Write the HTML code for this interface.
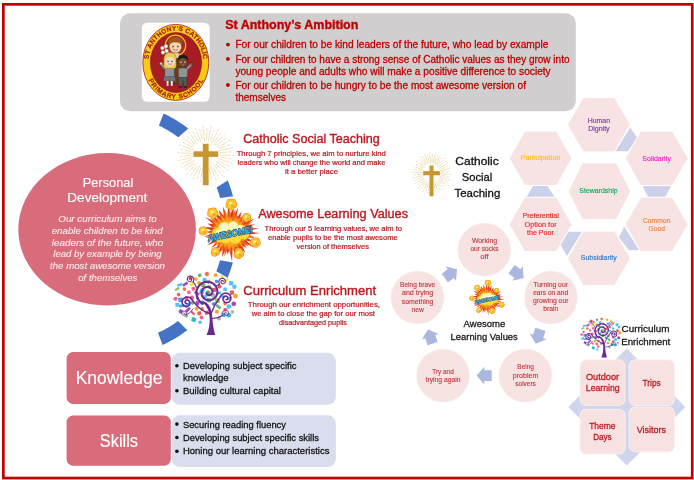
<!DOCTYPE html>
<html lang="en"><head><meta charset="utf-8"><title>St Anthony's Ambition</title>
<style>html,body{margin:0;padding:0;background:#fff;overflow:hidden}svg{display:block;will-change:transform}</style></head>
<body>
<svg width="694" height="480" viewBox="0 0 694 480" font-family="Liberation Sans, sans-serif">
<defs>
<radialGradient id="burstg" cx="50%" cy="50%" r="50%">
<stop offset="0" stop-color="#fff176"/><stop offset="0.35" stop-color="#ffb300"/><stop offset="0.7" stop-color="#f4511e"/><stop offset="1" stop-color="#d32f2f"/>
</radialGradient>
</defs>
<rect width="694" height="480" fill="#ffffff"/>
<rect x="3.35" y="4.35" width="688.9" height="473.7" fill="none" stroke="#c00000" stroke-width="2.7"/>
<polygon points="163.60,113.53 166.20,114.78 168.78,116.08 171.33,117.45 173.84,118.87 176.32,120.34 178.77,121.88 181.19,123.46 183.56,125.11 185.90,126.80 188.20,128.55 178.37,137.28 176.53,135.93 174.67,134.63 172.77,133.36 170.86,132.13 168.92,130.94 166.96,129.79 164.97,128.67 162.97,127.60 160.94,126.57 158.89,125.57" fill="#4472c4" />
<polygon points="227.69,180.49 228.32,182.03 228.92,183.59 229.51,185.15 230.07,186.72 230.62,188.29 231.14,189.87 231.64,191.46 232.12,193.06 232.58,194.66 233.02,196.27 220.13,198.04 219.82,196.97 219.51,195.90 219.18,194.83 218.84,193.76 218.49,192.70 218.13,191.64 217.76,190.59 217.38,189.54 216.99,188.49 216.59,187.44" fill="#4472c4" />
<polygon points="232.79,262.59 232.36,264.13 231.91,265.67 231.43,267.20 230.95,268.72 230.44,270.23 229.91,271.74 229.36,273.25 228.80,274.74 228.21,276.23 227.61,277.72 216.29,271.30 216.72,270.20 217.14,269.10 217.55,268.00 217.94,266.89 218.33,265.77 218.70,264.66 219.06,263.53 219.41,262.41 219.75,261.28 220.08,260.15" fill="#4472c4" />
<polygon points="187.32,330.13 185.00,331.86 182.65,333.53 180.26,335.15 177.84,336.72 175.37,338.23 172.88,339.69 170.35,341.08 167.79,342.43 165.20,343.71 162.59,344.93 157.99,332.85 160.10,331.85 162.19,330.80 164.25,329.72 166.30,328.59 168.32,327.42 170.32,326.21 172.29,324.95 174.24,323.66 176.16,322.33 178.05,320.96" fill="#4472c4" />
<rect x="120" y="13.2" width="455.8" height="98" rx="10" ry="10" fill="#d0cece"/>
<rect x="141.8" y="22.7" width="67.9" height="79.1" rx="5.5" ry="5.5" fill="#ffffff"/>
<g id="logo">
<ellipse cx="175.8" cy="62.4" rx="33.0" ry="38.0" fill="#fcc917" stroke="#a01818" stroke-width="0.8"/>
<ellipse cx="176.0" cy="62.6" rx="25.6" ry="30.0" fill="#a81c24" stroke="#7d1016" stroke-width="0.6"/>
<path id="arcTop" d="M148.55 59.16 L148.67 57.99 L148.83 56.83 L149.03 55.68 L149.26 54.54 L149.53 53.41 L149.84 52.29 L150.18 51.19 L150.55 50.10 L150.96 49.03 L151.40 47.97 L151.87 46.94 L152.38 45.92 L152.92 44.93 L153.48 43.96 L154.08 43.02 L154.71 42.10 L155.37 41.21 L156.05 40.35 L156.76 39.52 L157.50 38.72 L158.26 37.95 L159.05 37.22 L159.85 36.51 L160.68 35.85 L161.53 35.22 L162.40 34.62 L163.29 34.06 L164.19 33.55 L165.11 33.07 L166.04 32.63 L166.99 32.23 L167.95 31.87 L168.92 31.55 L169.90 31.27 L170.89 31.04 L171.88 30.84 L172.88 30.69 L173.89 30.59 L174.89 30.52 L175.90 30.50 L176.91 30.52 L177.91 30.59 L178.92 30.69 L179.92 30.84 L180.91 31.04 L181.90 31.27 L182.88 31.55 L183.85 31.87 L184.81 32.23 L185.76 32.63 L186.69 33.07 L187.61 33.55 L188.51 34.06 L189.40 34.62 L190.27 35.22 L191.12 35.85 L191.95 36.51 L192.75 37.22 L193.54 37.95 L194.30 38.72 L195.04 39.52 L195.75 40.35 L196.43 41.21 L197.09 42.10 L197.72 43.02 L198.32 43.96 L198.88 44.93 L199.42 45.92 L199.93 46.94 L200.40 47.97 L200.84 49.03 L201.25 50.10 L201.62 51.19 L201.96 52.29 L202.27 53.41 L202.54 54.54 L202.77 55.68 L202.97 56.83 L203.13 57.99 L203.25 59.16" fill="none"/>
<path id="arcBot" d="M148.52 80.10 L148.94 80.94 L149.37 81.76 L149.82 82.57 L150.29 83.37 L150.78 84.16 L151.29 84.92 L151.81 85.68 L152.35 86.41 L152.91 87.13 L153.48 87.83 L154.07 88.51 L154.67 89.18 L155.29 89.82 L155.93 90.45 L156.58 91.06 L157.24 91.64 L157.91 92.21 L158.60 92.75 L159.30 93.28 L160.01 93.78 L160.74 94.26 L161.47 94.71 L162.22 95.15 L162.97 95.56 L163.73 95.95 L164.50 96.31 L165.28 96.65 L166.07 96.96 L166.87 97.26 L167.67 97.52 L168.47 97.76 L169.29 97.98 L170.10 98.17 L170.92 98.34 L171.75 98.48 L172.57 98.59 L173.40 98.68 L174.23 98.75 L175.07 98.79 L175.90 98.80 L176.73 98.79 L177.57 98.75 L178.40 98.68 L179.23 98.59 L180.05 98.48 L180.88 98.34 L181.70 98.17 L182.51 97.98 L183.33 97.76 L184.13 97.52 L184.93 97.26 L185.73 96.96 L186.52 96.65 L187.30 96.31 L188.07 95.95 L188.83 95.56 L189.58 95.15 L190.33 94.71 L191.06 94.26 L191.79 93.78 L192.50 93.28 L193.20 92.75 L193.89 92.21 L194.56 91.64 L195.22 91.06 L195.87 90.45 L196.51 89.82 L197.13 89.18 L197.73 88.51 L198.32 87.83 L198.89 87.13 L199.45 86.41 L199.99 85.68 L200.51 84.92 L201.02 84.16 L201.51 83.37 L201.98 82.57 L202.43 81.76 L202.86 80.94 L203.28 80.10" fill="none"/>
<text font-size="6.6" font-weight="bold" fill="#9c1218" stroke="#9c1218" stroke-width="0.15" textLength="86.9" lengthAdjust="spacing"><textPath href="#arcTop" textLength="86.9" lengthAdjust="spacing">ST ANTHONY'S CATHOLIC</textPath></text>
<text font-size="6.6" font-weight="bold" fill="#9c1218" stroke="#9c1218" stroke-width="0.15" textLength="70.0" lengthAdjust="spacing"><textPath href="#arcBot" textLength="70.0" lengthAdjust="spacing">PRIMARY SCHOOL</textPath></text>
<circle cx="175.5" cy="45.4" r="10.2" fill="#b5242a" stroke="#f5c518" stroke-width="1.2"/>
<path d="M166.8 59 Q175.5 52.5 184.4 59 L185.6 84 L166.0 84 Z" fill="#6b3a1e" stroke="#3a1d0c" stroke-width="0.4"/>
<path d="M172.4 53 L178.6 53 L179.4 58 L171.6 58Z" fill="#f2c9a4"/>
<ellipse cx="175.4" cy="46.4" rx="6.3" ry="6.7" fill="#f7d3b0" stroke="#5a2d12" stroke-width="0.4"/>
<path d="M168.4 47 Q166.4 36.4 175.4 36.4 Q184.4 36.4 182.4 47 Q181 41.6 175.4 42 Q169.8 41.6 168.4 47Z" fill="#a4531c" stroke="#5a2d12" stroke-width="0.4"/>
<circle cx="173.0" cy="46.6" r="0.8" fill="#3b2a1a"/><circle cx="177.9" cy="46.6" r="0.8" fill="#3b2a1a"/>
<path d="M172.8 49.8 Q175.4 52.2 178.0 49.8 Z" fill="#fff" stroke="#8a3a2a" stroke-width="0.4"/>
<circle cx="162.4" cy="48.0" r="2.0" fill="#f4f4ee" stroke="#6a6a5a" stroke-width="0.4"/>
<circle cx="166.0" cy="46.2" r="2.0" fill="#f4f4ee" stroke="#6a6a5a" stroke-width="0.4"/>
<circle cx="166.6" cy="51.0" r="2.0" fill="#f4f4ee" stroke="#6a6a5a" stroke-width="0.4"/>
<circle cx="163.0" cy="52.4" r="2.0" fill="#f4f4ee" stroke="#6a6a5a" stroke-width="0.4"/>
<path d="M164.8 54 L167.4 62" stroke="#5b7a2e" stroke-width="0.7"/>
<path d="M165.4 69.0 L161.6 64.6" stroke="#3c3f42" stroke-width="2.9" stroke-linecap="round"/>
<path d="M165.4 69.0 L161.6 64.6" stroke="#8f9498" stroke-width="2.2" stroke-linecap="round"/>
<circle cx="161.1" cy="63.6" r="1.4" fill="#f7d3b0" stroke="#5a2d12" stroke-width="0.3"/>
<path d="M165.0 68.4 Q169.6 66.2 174.2 68.4 L174.4 77 L164.8 77Z" fill="#8f9498" stroke="#3c3f42" stroke-width="0.35"/>
<path d="M164.2 76.6 L175 76.6 L176 81 L163.2 81Z" fill="#6f7478" stroke="#3c3f42" stroke-width="0.35"/>
<rect x="166.6" y="81" width="1.9" height="5.2" fill="#f3f3f3"/><rect x="170.8" y="81" width="1.9" height="5.2" fill="#f3f3f3"/>
<ellipse cx="167.3" cy="86.8" rx="1.9" ry="1.0" fill="#b01c20"/><ellipse cx="171.9" cy="86.8" rx="1.9" ry="1.0" fill="#b01c20"/>
<path d="M164.0 61.5 Q162.8 52.6 170.0 52.6 Q177.2 52.6 176.0 61.5 Q177.0 67.6 174.6 68.4 L165.4 68.4 Q163.0 67.6 164.0 61.5Z" fill="#f0cc58" stroke="#7a5a12" stroke-width="0.4"/>
<ellipse cx="170.0" cy="61.2" rx="4.9" ry="5.1" fill="#f9dcc0"/>
<path d="M164.8 60.0 Q166.0 54.0 170.0 54.2 Q174.2 54.0 175.3 60.0 Q172.0 56.6 170.0 57 Q167.6 56.6 164.8 60.0Z" fill="#f0cc58"/>
<circle cx="168.0" cy="61.4" r="0.8" fill="#3b5a8a"/><circle cx="172.0" cy="61.4" r="0.8" fill="#3b5a8a"/>
<path d="M168.2 64.0 Q170.0 65.6 171.8 64.0 Z" fill="#fff" stroke="#a04a3a" stroke-width="0.4"/>
<path d="M187.0 69.0 L191.2 64.4" stroke="#3c3f42" stroke-width="2.9" stroke-linecap="round"/>
<path d="M187.0 69.0 L191.2 64.4" stroke="#8f9498" stroke-width="2.2" stroke-linecap="round"/>
<circle cx="191.8" cy="63.4" r="1.4" fill="#7a4a2a" stroke="#2a1508" stroke-width="0.3"/>
<path d="M178.4 68.8 Q183.0 66.6 187.6 68.8 L187.2 77.6 L178.6 77.6Z" fill="#8f9498" stroke="#3c3f42" stroke-width="0.35"/>
<path d="M178.8 77.4 L187 77.4 L186.8 86.4 L183.7 86.4 L182.9 79.6 L182.1 86.4 L179 86.4Z" fill="#55595d" stroke="#2c2f32" stroke-width="0.35"/>
<ellipse cx="180.4" cy="86.9" rx="2.0" ry="1.0" fill="#2a2a2a"/><ellipse cx="185.4" cy="86.9" rx="2.0" ry="1.0" fill="#2a2a2a"/>
<ellipse cx="182.9" cy="62.0" rx="5.0" ry="5.3" fill="#7a4a2a" stroke="#2a1508" stroke-width="0.4"/>
<path d="M177.9 61.0 Q177.2 54.8 182.9 54.8 Q188.6 54.8 187.9 61.0 Q185.6 57.8 182.9 58 Q180.2 57.8 177.9 61.0Z" fill="#1f1a18"/>
<circle cx="181.0" cy="62.2" r="0.8" fill="#fff"/><circle cx="184.8" cy="62.2" r="0.8" fill="#fff"/>
<circle cx="181.0" cy="62.2" r="0.4" fill="#111"/><circle cx="184.8" cy="62.2" r="0.4" fill="#111"/>
<path d="M181.0 64.8 Q182.9 66.4 184.8 64.8 Z" fill="#fff" stroke="#2a1508" stroke-width="0.3"/>
</g>
<text x="225.20" y="28.90" font-size="12.9" fill="#c00000" stroke="#c00000" stroke-width="0.36" font-weight="bold" font-style="normal" textLength="133.20" lengthAdjust="spacingAndGlyphs" >St Anthony’s Ambition</text>
<circle cx="227.9" cy="44.6" r="1.9" fill="#c00000"/>
<circle cx="227.9" cy="58.9" r="1.9" fill="#c00000"/>
<circle cx="227.9" cy="85.0" r="1.9" fill="#c00000"/>
<text x="235.40" y="48.30" font-size="10.1" fill="#c00000" stroke="#c00000" stroke-width="0.28" font-weight="normal" font-style="normal" textLength="313.00" lengthAdjust="spacingAndGlyphs" >For our children to be kind leaders of the future, who lead by example</text>
<text x="235.40" y="62.60" font-size="10.1" fill="#c00000" stroke="#c00000" stroke-width="0.28" font-weight="normal" font-style="normal" textLength="334.10" lengthAdjust="spacingAndGlyphs" >For our children to have a strong sense of Catholic values as they grow into</text>
<text x="235.40" y="75.00" font-size="10.1" fill="#c00000" stroke="#c00000" stroke-width="0.28" font-weight="normal" font-style="normal" textLength="315.30" lengthAdjust="spacingAndGlyphs" >young people and adults who will make a positive difference to society</text>
<text x="235.40" y="88.70" font-size="10.1" fill="#c00000" stroke="#c00000" stroke-width="0.28" font-weight="normal" font-style="normal" textLength="290.60" lengthAdjust="spacingAndGlyphs" >For our children to be hungry to be the most awesome version of</text>
<text x="235.40" y="101.10" font-size="10.1" fill="#c00000" stroke="#c00000" stroke-width="0.28" font-weight="normal" font-style="normal" textLength="50.60" lengthAdjust="spacingAndGlyphs" >themselves</text>
<ellipse cx="107.1" cy="229.3" rx="88.8" ry="76.2" fill="#d86c7a"/>
<text x="82.70" y="186.70" font-size="13.0" fill="#ffffff" stroke="#ffffff" stroke-width="0.12" font-weight="normal" font-style="normal" textLength="50.60" lengthAdjust="spacingAndGlyphs" >Personal</text>
<text x="67.30" y="202.30" font-size="13.0" fill="#ffffff" stroke="#ffffff" stroke-width="0.12" font-weight="normal" font-style="normal" textLength="80.00" lengthAdjust="spacingAndGlyphs" >Development</text>
<text x="58.30" y="222.30" font-size="9.7" fill="#fdecef" stroke="#fdecef" stroke-width="0.10" font-weight="normal" font-style="italic" textLength="98.40" lengthAdjust="spacingAndGlyphs" >Our curriculum aims to</text>
<text x="51.70" y="234.00" font-size="9.7" fill="#fdecef" stroke="#fdecef" stroke-width="0.10" font-weight="normal" font-style="italic" textLength="111.00" lengthAdjust="spacingAndGlyphs" >enable children to be kind</text>
<text x="51.70" y="245.70" font-size="9.7" fill="#fdecef" stroke="#fdecef" stroke-width="0.10" font-weight="normal" font-style="italic" textLength="111.60" lengthAdjust="spacingAndGlyphs" >leaders of the future, who</text>
<text x="53.30" y="257.30" font-size="9.7" fill="#fdecef" stroke="#fdecef" stroke-width="0.10" font-weight="normal" font-style="italic" textLength="108.40" lengthAdjust="spacingAndGlyphs" >lead by example by being</text>
<text x="50.00" y="269.30" font-size="9.7" fill="#fdecef" stroke="#fdecef" stroke-width="0.10" font-weight="normal" font-style="italic" textLength="115.00" lengthAdjust="spacingAndGlyphs" >the most awesome version</text>
<text x="78.30" y="280.70" font-size="9.7" fill="#fdecef" stroke="#fdecef" stroke-width="0.10" font-weight="normal" font-style="italic" textLength="59.00" lengthAdjust="spacingAndGlyphs" >of themselves</text>
<g transform="translate(205.7,154.1) scale(1.0,1.0)">
<line x1="12.48" y1="0.62" x2="24.47" y2="1.22" stroke="#e8dbb0" stroke-width="0.85" vector-effect="non-scaling-stroke"/>
<line x1="25.77" y1="1.29" x2="28.46" y2="1.42" stroke="#e8dbb0" stroke-width="0.85" vector-effect="non-scaling-stroke"/>
<line x1="14.23" y1="2.78" x2="21.10" y2="4.12" stroke="#e8dbb0" stroke-width="0.85" vector-effect="non-scaling-stroke"/>
<line x1="22.57" y1="4.41" x2="25.52" y2="4.98" stroke="#e8dbb0" stroke-width="0.85" vector-effect="non-scaling-stroke"/>
<line x1="11.80" y1="4.12" x2="23.13" y2="8.07" stroke="#e8dbb0" stroke-width="0.85" vector-effect="non-scaling-stroke"/>
<line x1="24.36" y1="8.50" x2="26.91" y2="9.39" stroke="#e8dbb0" stroke-width="0.85" vector-effect="non-scaling-stroke"/>
<line x1="12.87" y1="6.68" x2="19.09" y2="9.90" stroke="#e8dbb0" stroke-width="0.85" vector-effect="non-scaling-stroke"/>
<line x1="20.42" y1="10.59" x2="23.08" y2="11.97" stroke="#e8dbb0" stroke-width="0.85" vector-effect="non-scaling-stroke"/>
<line x1="10.16" y1="7.28" x2="19.92" y2="14.26" stroke="#e8dbb0" stroke-width="0.85" vector-effect="non-scaling-stroke"/>
<line x1="20.98" y1="15.02" x2="23.18" y2="16.59" stroke="#e8dbb0" stroke-width="0.85" vector-effect="non-scaling-stroke"/>
<line x1="10.47" y1="10.03" x2="15.52" y2="14.87" stroke="#e8dbb0" stroke-width="0.85" vector-effect="non-scaling-stroke"/>
<line x1="16.61" y1="15.91" x2="18.77" y2="17.99" stroke="#e8dbb0" stroke-width="0.85" vector-effect="non-scaling-stroke"/>
<line x1="7.70" y1="9.84" x2="15.10" y2="19.29" stroke="#e8dbb0" stroke-width="0.85" vector-effect="non-scaling-stroke"/>
<line x1="15.90" y1="20.32" x2="17.56" y2="22.44" stroke="#e8dbb0" stroke-width="0.85" vector-effect="non-scaling-stroke"/>
<line x1="7.22" y1="12.57" x2="10.71" y2="18.65" stroke="#e8dbb0" stroke-width="0.85" vector-effect="non-scaling-stroke"/>
<line x1="11.45" y1="19.95" x2="12.95" y2="22.55" stroke="#e8dbb0" stroke-width="0.85" vector-effect="non-scaling-stroke"/>
<line x1="4.62" y1="11.62" x2="9.05" y2="22.77" stroke="#e8dbb0" stroke-width="0.85" vector-effect="non-scaling-stroke"/>
<line x1="9.53" y1="23.97" x2="10.53" y2="26.48" stroke="#e8dbb0" stroke-width="0.85" vector-effect="non-scaling-stroke"/>
<line x1="3.38" y1="14.10" x2="5.02" y2="20.91" stroke="#e8dbb0" stroke-width="0.85" vector-effect="non-scaling-stroke"/>
<line x1="5.37" y1="22.36" x2="6.07" y2="25.28" stroke="#e8dbb0" stroke-width="0.85" vector-effect="non-scaling-stroke"/>
<line x1="1.16" y1="12.45" x2="2.27" y2="24.39" stroke="#e8dbb0" stroke-width="0.85" vector-effect="non-scaling-stroke"/>
<line x1="2.39" y1="25.69" x2="2.64" y2="28.38" stroke="#e8dbb0" stroke-width="0.85" vector-effect="non-scaling-stroke"/>
<line x1="-0.72" y1="14.48" x2="-1.07" y2="21.47" stroke="#e8dbb0" stroke-width="0.85" vector-effect="non-scaling-stroke"/>
<line x1="-1.15" y1="22.97" x2="-1.30" y2="25.97" stroke="#e8dbb0" stroke-width="0.85" vector-effect="non-scaling-stroke"/>
<line x1="-2.40" y1="12.27" x2="-4.69" y2="24.05" stroke="#e8dbb0" stroke-width="0.85" vector-effect="non-scaling-stroke"/>
<line x1="-4.94" y1="25.32" x2="-5.46" y2="27.97" stroke="#e8dbb0" stroke-width="0.85" vector-effect="non-scaling-stroke"/>
<line x1="-4.78" y1="13.69" x2="-7.08" y2="20.30" stroke="#e8dbb0" stroke-width="0.85" vector-effect="non-scaling-stroke"/>
<line x1="-7.57" y1="21.72" x2="-8.56" y2="24.55" stroke="#e8dbb0" stroke-width="0.85" vector-effect="non-scaling-stroke"/>
<line x1="-5.75" y1="11.10" x2="-11.28" y2="21.75" stroke="#e8dbb0" stroke-width="0.85" vector-effect="non-scaling-stroke"/>
<line x1="-11.88" y1="22.90" x2="-13.12" y2="25.30" stroke="#e8dbb0" stroke-width="0.85" vector-effect="non-scaling-stroke"/>
<line x1="-8.44" y1="11.79" x2="-12.51" y2="17.48" stroke="#e8dbb0" stroke-width="0.85" vector-effect="non-scaling-stroke"/>
<line x1="-13.39" y1="18.70" x2="-15.13" y2="21.14" stroke="#e8dbb0" stroke-width="0.85" vector-effect="non-scaling-stroke"/>
<line x1="-8.65" y1="9.03" x2="-16.95" y2="17.69" stroke="#e8dbb0" stroke-width="0.85" vector-effect="non-scaling-stroke"/>
<line x1="-17.85" y1="18.63" x2="-19.72" y2="20.58" stroke="#e8dbb0" stroke-width="0.85" vector-effect="non-scaling-stroke"/>
<line x1="-11.42" y1="8.94" x2="-16.93" y2="13.25" stroke="#e8dbb0" stroke-width="0.85" vector-effect="non-scaling-stroke"/>
<line x1="-18.11" y1="14.17" x2="-20.48" y2="16.02" stroke="#e8dbb0" stroke-width="0.85" vector-effect="non-scaling-stroke"/>
<line x1="-10.84" y1="6.22" x2="-21.25" y2="12.20" stroke="#e8dbb0" stroke-width="0.85" vector-effect="non-scaling-stroke"/>
<line x1="-22.37" y1="12.85" x2="-24.72" y2="14.19" stroke="#e8dbb0" stroke-width="0.85" vector-effect="non-scaling-stroke"/>
<line x1="-13.47" y1="5.36" x2="-19.98" y2="7.94" stroke="#e8dbb0" stroke-width="0.85" vector-effect="non-scaling-stroke"/>
<line x1="-21.37" y1="8.50" x2="-24.16" y2="9.61" stroke="#e8dbb0" stroke-width="0.85" vector-effect="non-scaling-stroke"/>
<line x1="-12.15" y1="2.92" x2="-23.82" y2="5.72" stroke="#e8dbb0" stroke-width="0.85" vector-effect="non-scaling-stroke"/>
<line x1="-25.09" y1="6.02" x2="-27.71" y2="6.65" stroke="#e8dbb0" stroke-width="0.85" vector-effect="non-scaling-stroke"/>
<line x1="-14.44" y1="1.34" x2="-21.41" y2="1.99" stroke="#e8dbb0" stroke-width="0.85" vector-effect="non-scaling-stroke"/>
<line x1="-22.90" y1="2.13" x2="-25.89" y2="2.41" stroke="#e8dbb0" stroke-width="0.85" vector-effect="non-scaling-stroke"/>
<line x1="-12.48" y1="-0.62" x2="-24.47" y2="-1.22" stroke="#e8dbb0" stroke-width="0.85" vector-effect="non-scaling-stroke"/>
<line x1="-25.77" y1="-1.29" x2="-28.46" y2="-1.42" stroke="#e8dbb0" stroke-width="0.85" vector-effect="non-scaling-stroke"/>
<line x1="-14.23" y1="-2.78" x2="-21.10" y2="-4.12" stroke="#e8dbb0" stroke-width="0.85" vector-effect="non-scaling-stroke"/>
<line x1="-22.57" y1="-4.41" x2="-25.52" y2="-4.98" stroke="#e8dbb0" stroke-width="0.85" vector-effect="non-scaling-stroke"/>
<line x1="-11.80" y1="-4.12" x2="-23.13" y2="-8.07" stroke="#e8dbb0" stroke-width="0.85" vector-effect="non-scaling-stroke"/>
<line x1="-24.36" y1="-8.50" x2="-26.91" y2="-9.39" stroke="#e8dbb0" stroke-width="0.85" vector-effect="non-scaling-stroke"/>
<line x1="-12.87" y1="-6.68" x2="-19.09" y2="-9.90" stroke="#e8dbb0" stroke-width="0.85" vector-effect="non-scaling-stroke"/>
<line x1="-20.42" y1="-10.59" x2="-23.08" y2="-11.97" stroke="#e8dbb0" stroke-width="0.85" vector-effect="non-scaling-stroke"/>
<line x1="-10.16" y1="-7.28" x2="-19.92" y2="-14.26" stroke="#e8dbb0" stroke-width="0.85" vector-effect="non-scaling-stroke"/>
<line x1="-20.98" y1="-15.02" x2="-23.18" y2="-16.59" stroke="#e8dbb0" stroke-width="0.85" vector-effect="non-scaling-stroke"/>
<line x1="-10.47" y1="-10.03" x2="-15.52" y2="-14.87" stroke="#e8dbb0" stroke-width="0.85" vector-effect="non-scaling-stroke"/>
<line x1="-16.61" y1="-15.91" x2="-18.77" y2="-17.99" stroke="#e8dbb0" stroke-width="0.85" vector-effect="non-scaling-stroke"/>
<line x1="-7.70" y1="-9.84" x2="-15.10" y2="-19.29" stroke="#e8dbb0" stroke-width="0.85" vector-effect="non-scaling-stroke"/>
<line x1="-15.90" y1="-20.32" x2="-17.56" y2="-22.44" stroke="#e8dbb0" stroke-width="0.85" vector-effect="non-scaling-stroke"/>
<line x1="-7.22" y1="-12.57" x2="-10.71" y2="-18.65" stroke="#e8dbb0" stroke-width="0.85" vector-effect="non-scaling-stroke"/>
<line x1="-11.45" y1="-19.95" x2="-12.95" y2="-22.55" stroke="#e8dbb0" stroke-width="0.85" vector-effect="non-scaling-stroke"/>
<line x1="-4.62" y1="-11.62" x2="-9.05" y2="-22.77" stroke="#e8dbb0" stroke-width="0.85" vector-effect="non-scaling-stroke"/>
<line x1="-9.53" y1="-23.97" x2="-10.53" y2="-26.48" stroke="#e8dbb0" stroke-width="0.85" vector-effect="non-scaling-stroke"/>
<line x1="-3.38" y1="-14.10" x2="-5.02" y2="-20.91" stroke="#e8dbb0" stroke-width="0.85" vector-effect="non-scaling-stroke"/>
<line x1="-5.37" y1="-22.36" x2="-6.07" y2="-25.28" stroke="#e8dbb0" stroke-width="0.85" vector-effect="non-scaling-stroke"/>
<line x1="-1.16" y1="-12.45" x2="-2.27" y2="-24.39" stroke="#e8dbb0" stroke-width="0.85" vector-effect="non-scaling-stroke"/>
<line x1="-2.39" y1="-25.69" x2="-2.64" y2="-28.38" stroke="#e8dbb0" stroke-width="0.85" vector-effect="non-scaling-stroke"/>
<line x1="0.72" y1="-14.48" x2="1.07" y2="-21.47" stroke="#e8dbb0" stroke-width="0.85" vector-effect="non-scaling-stroke"/>
<line x1="1.15" y1="-22.97" x2="1.30" y2="-25.97" stroke="#e8dbb0" stroke-width="0.85" vector-effect="non-scaling-stroke"/>
<line x1="2.40" y1="-12.27" x2="4.69" y2="-24.05" stroke="#e8dbb0" stroke-width="0.85" vector-effect="non-scaling-stroke"/>
<line x1="4.94" y1="-25.32" x2="5.46" y2="-27.97" stroke="#e8dbb0" stroke-width="0.85" vector-effect="non-scaling-stroke"/>
<line x1="4.78" y1="-13.69" x2="7.08" y2="-20.30" stroke="#e8dbb0" stroke-width="0.85" vector-effect="non-scaling-stroke"/>
<line x1="7.57" y1="-21.72" x2="8.56" y2="-24.55" stroke="#e8dbb0" stroke-width="0.85" vector-effect="non-scaling-stroke"/>
<line x1="5.75" y1="-11.10" x2="11.28" y2="-21.75" stroke="#e8dbb0" stroke-width="0.85" vector-effect="non-scaling-stroke"/>
<line x1="11.88" y1="-22.90" x2="13.12" y2="-25.30" stroke="#e8dbb0" stroke-width="0.85" vector-effect="non-scaling-stroke"/>
<line x1="8.44" y1="-11.79" x2="12.51" y2="-17.48" stroke="#e8dbb0" stroke-width="0.85" vector-effect="non-scaling-stroke"/>
<line x1="13.39" y1="-18.70" x2="15.13" y2="-21.14" stroke="#e8dbb0" stroke-width="0.85" vector-effect="non-scaling-stroke"/>
<line x1="8.65" y1="-9.03" x2="16.95" y2="-17.69" stroke="#e8dbb0" stroke-width="0.85" vector-effect="non-scaling-stroke"/>
<line x1="17.85" y1="-18.63" x2="19.72" y2="-20.58" stroke="#e8dbb0" stroke-width="0.85" vector-effect="non-scaling-stroke"/>
<line x1="11.42" y1="-8.94" x2="16.93" y2="-13.25" stroke="#e8dbb0" stroke-width="0.85" vector-effect="non-scaling-stroke"/>
<line x1="18.11" y1="-14.17" x2="20.48" y2="-16.02" stroke="#e8dbb0" stroke-width="0.85" vector-effect="non-scaling-stroke"/>
<line x1="10.84" y1="-6.22" x2="21.25" y2="-12.20" stroke="#e8dbb0" stroke-width="0.85" vector-effect="non-scaling-stroke"/>
<line x1="22.37" y1="-12.85" x2="24.72" y2="-14.19" stroke="#e8dbb0" stroke-width="0.85" vector-effect="non-scaling-stroke"/>
<line x1="13.47" y1="-5.36" x2="19.98" y2="-7.94" stroke="#e8dbb0" stroke-width="0.85" vector-effect="non-scaling-stroke"/>
<line x1="21.37" y1="-8.50" x2="24.16" y2="-9.61" stroke="#e8dbb0" stroke-width="0.85" vector-effect="non-scaling-stroke"/>
<line x1="12.15" y1="-2.92" x2="23.82" y2="-5.72" stroke="#e8dbb0" stroke-width="0.85" vector-effect="non-scaling-stroke"/>
<line x1="25.09" y1="-6.02" x2="27.71" y2="-6.65" stroke="#e8dbb0" stroke-width="0.85" vector-effect="non-scaling-stroke"/>
<line x1="14.44" y1="-1.34" x2="21.41" y2="-1.99" stroke="#e8dbb0" stroke-width="0.85" vector-effect="non-scaling-stroke"/>
<line x1="22.90" y1="-2.13" x2="25.89" y2="-2.41" stroke="#e8dbb0" stroke-width="0.85" vector-effect="non-scaling-stroke"/>
<rect x="-2.9" y="-10.35" width="5.8" height="41.5" fill="#c8962f"/>
<rect x="-12.3" y="-2.8" width="24.7" height="5.6" fill="#c8962f"/>
</g>
<g transform="translate(230,232.5) scale(1.0)">
<polygon points="29.77,0.70 18.17,2.03 24.49,4.95 16.69,4.94 24.55,9.71 15.87,7.98 24.53,15.24 12.75,9.62 16.77,15.27 12.12,13.28 15.42,20.43 9.24,14.99 9.74,19.81 5.86,15.50 7.18,26.47 2.66,15.65 2.06,28.97 -0.46,17.76 -2.72,21.93 -3.35,14.94 -8.13,24.79 -7.23,16.50 -12.19,21.87 -9.11,13.24 -16.41,19.62 -11.13,11.03 -18.72,15.42 -14.07,9.58 -23.27,12.94 -15.13,6.72 -23.38,7.98 -16.13,3.95 -26.34,4.04 -16.83,1.08 -23.16,-0.55 -18.39,-2.06 -26.85,-5.43 -17.12,-5.07 -22.61,-8.94 -16.77,-8.43 -25.01,-15.54 -12.81,-9.67 -18.53,-16.87 -11.90,-13.04 -16.72,-22.15 -9.50,-15.42 -11.17,-22.70 -6.25,-16.53 -7.08,-26.09 -2.69,-15.86 -1.87,-26.26 0.46,-17.71 3.48,-28.09 3.65,-16.28 8.24,-25.13 6.19,-14.12 11.67,-20.94 10.07,-14.62 16.37,-19.57 11.43,-11.33 20.69,-17.05 14.72,-10.02 24.51,-13.63 15.51,-6.89 24.95,-8.51 16.97,-4.16 28.85,-4.42 17.52,-1.13" fill="#dc3a1a" />
<polygon points="25.05,5.18 13.42,4.32 17.74,7.91 14.06,8.21 19.03,14.13 11.43,10.65 13.35,15.59 8.55,12.64 10.29,19.80 5.35,14.07 4.67,18.58 1.86,14.42 0.21,20.67 -1.65,15.28 -5.53,24.10 -5.41,15.16 -9.69,19.61 -8.03,12.41 -12.86,15.63 -9.88,9.57 -14.89,11.51 -12.95,7.90 -19.04,8.93 -14.24,4.88 -24.55,5.57 -15.46,1.80 -22.92,0.21 -14.63,-1.43 -18.73,-3.88 -14.18,-4.57 -18.07,-8.06 -13.23,-7.73 -20.48,-15.20 -11.44,-10.66 -12.80,-14.94 -9.01,-13.33 -10.88,-20.94 -5.50,-14.48 -5.88,-23.42 -1.98,-15.36 -0.24,-23.30 1.54,-14.23 5.51,-24.01 5.42,-15.19 8.55,-17.31 8.52,-13.16 14.78,-17.97 10.77,-10.44 17.62,-13.62 13.02,-7.94 22.84,-10.71 14.58,-5.00 24.14,-5.47 14.95,-1.74 25.18,-0.24 16.61,1.62" fill="#f0641a" />
<polygon points="19.23,1.14 12.87,2.39 18.60,5.94 12.47,5.79 13.66,8.61 9.08,7.51 13.91,14.98 7.13,10.07 7.75,14.81 4.86,13.47 3.73,17.53 0.99,13.75 -1.17,17.88 -2.67,12.98 -5.38,15.22 -6.11,11.87 -11.73,16.79 -8.91,9.72 -15.33,12.85 -11.63,7.43 -14.67,6.93 -13.50,4.40 -19.16,3.68 -12.87,0.84 -16.15,-0.96 -14.33,-2.66 -17.86,-5.70 -12.72,-5.91 -17.72,-11.17 -10.66,-8.83 -14.24,-15.33 -7.36,-10.39 -9.26,-17.70 -4.33,-11.98 -4.28,-20.13 -1.00,-13.87 1.03,-15.72 2.38,-11.57 5.51,-15.58 6.55,-12.71 10.29,-14.74 9.12,-9.94 13.35,-11.19 11.22,-7.17 16.40,-7.74 12.35,-4.02 19.12,-3.67 13.72,-0.90" fill="#f89a1b" />
<ellipse cx="0" cy="0" rx="13" ry="12" fill="#fbb52a"/>
<circle cx="3.86" cy="-27.83" r="3.36" fill="#e8851a"/>
<circle cx="1.27" cy="-25.62" r="3.36" fill="#e8851a"/>
<circle cx="-1.07" cy="-27.18" r="3.36" fill="#e8851a"/>
<circle cx="-0.12" cy="-30.36" r="3.36" fill="#e8851a"/>
<circle cx="2.94" cy="-30.19" r="3.36" fill="#e8851a"/>
<circle cx="3.86" cy="-27.83" r="2.91" fill="#fbc02d"/>
<circle cx="1.27" cy="-25.62" r="2.91" fill="#fbc02d"/>
<circle cx="-1.07" cy="-27.18" r="2.91" fill="#fbc02d"/>
<circle cx="-0.12" cy="-30.36" r="2.91" fill="#fbc02d"/>
<circle cx="2.94" cy="-30.19" r="2.91" fill="#fbc02d"/>
<circle cx="1.30" cy="-28.20" r="2.82" fill="#fdd835"/>
<circle cx="2.71" cy="-26.55" r="1.65" fill="#f6a21c"/>
<circle cx="0.36" cy="-29.38" r="1.32" fill="#fff59d"/>
<circle cx="-14.90" cy="-19.26" r="3.18" fill="#e8851a"/>
<circle cx="-16.70" cy="-17.26" r="3.18" fill="#e8851a"/>
<circle cx="-19.54" cy="-18.68" r="3.18" fill="#e8851a"/>
<circle cx="-19.12" cy="-21.20" r="3.18" fill="#e8851a"/>
<circle cx="-16.46" cy="-21.87" r="3.18" fill="#e8851a"/>
<circle cx="-14.90" cy="-19.26" r="2.73" fill="#fbc02d"/>
<circle cx="-16.70" cy="-17.26" r="2.73" fill="#fbc02d"/>
<circle cx="-19.54" cy="-18.68" r="2.73" fill="#fbc02d"/>
<circle cx="-19.12" cy="-21.20" r="2.73" fill="#fbc02d"/>
<circle cx="-16.46" cy="-21.87" r="2.73" fill="#fbc02d"/>
<circle cx="-17.30" cy="-19.60" r="2.64" fill="#fdd835"/>
<circle cx="-15.98" cy="-18.06" r="1.54" fill="#f6a21c"/>
<circle cx="-18.18" cy="-20.70" r="1.23" fill="#fff59d"/>
<circle cx="18.54" cy="-14.28" r="2.68" fill="#e8851a"/>
<circle cx="16.44" cy="-13.04" r="2.68" fill="#e8851a"/>
<circle cx="14.74" cy="-14.70" r="2.68" fill="#e8851a"/>
<circle cx="15.97" cy="-16.84" r="2.68" fill="#e8851a"/>
<circle cx="18.06" cy="-16.44" r="2.68" fill="#e8851a"/>
<circle cx="18.54" cy="-14.28" r="2.23" fill="#fbc02d"/>
<circle cx="16.44" cy="-13.04" r="2.23" fill="#fbc02d"/>
<circle cx="14.74" cy="-14.70" r="2.23" fill="#fbc02d"/>
<circle cx="15.97" cy="-16.84" r="2.23" fill="#fbc02d"/>
<circle cx="18.06" cy="-16.44" r="2.23" fill="#fbc02d"/>
<circle cx="16.70" cy="-15.00" r="2.16" fill="#fdd835"/>
<circle cx="17.78" cy="-13.74" r="1.26" fill="#f6a21c"/>
<circle cx="15.98" cy="-15.90" r="1.01" fill="#fff59d"/>
<circle cx="-25.04" cy="-0.69" r="2.68" fill="#e8851a"/>
<circle cx="-27.15" cy="0.35" r="2.68" fill="#e8851a"/>
<circle cx="-28.67" cy="-0.94" r="2.68" fill="#e8851a"/>
<circle cx="-28.20" cy="-3.00" r="2.68" fill="#e8851a"/>
<circle cx="-26.19" cy="-3.48" r="2.68" fill="#e8851a"/>
<circle cx="-25.04" cy="-0.69" r="2.23" fill="#fbc02d"/>
<circle cx="-27.15" cy="0.35" r="2.23" fill="#fbc02d"/>
<circle cx="-28.67" cy="-0.94" r="2.23" fill="#fbc02d"/>
<circle cx="-28.20" cy="-3.00" r="2.23" fill="#fbc02d"/>
<circle cx="-26.19" cy="-3.48" r="2.23" fill="#fbc02d"/>
<circle cx="-26.80" cy="-1.60" r="2.16" fill="#fdd835"/>
<circle cx="-25.72" cy="-0.34" r="1.26" fill="#f6a21c"/>
<circle cx="-27.52" cy="-2.50" r="1.01" fill="#fff59d"/>
<circle cx="27.67" cy="10.45" r="3.05" fill="#e8851a"/>
<circle cx="25.91" cy="12.25" r="3.05" fill="#e8851a"/>
<circle cx="23.15" cy="10.54" r="3.05" fill="#e8851a"/>
<circle cx="23.59" cy="8.56" r="3.05" fill="#e8851a"/>
<circle cx="26.77" cy="8.14" r="3.05" fill="#e8851a"/>
<circle cx="27.67" cy="10.45" r="2.60" fill="#fbc02d"/>
<circle cx="25.91" cy="12.25" r="2.60" fill="#fbc02d"/>
<circle cx="23.15" cy="10.54" r="2.60" fill="#fbc02d"/>
<circle cx="23.59" cy="8.56" r="2.60" fill="#fbc02d"/>
<circle cx="26.77" cy="8.14" r="2.60" fill="#fbc02d"/>
<circle cx="25.40" cy="10.00" r="2.52" fill="#fdd835"/>
<circle cx="26.66" cy="11.47" r="1.47" fill="#f6a21c"/>
<circle cx="24.56" cy="8.95" r="1.18" fill="#fff59d"/>
<circle cx="-12.68" cy="19.68" r="2.74" fill="#e8851a"/>
<circle cx="-15.23" cy="21.36" r="2.74" fill="#e8851a"/>
<circle cx="-16.43" cy="20.47" r="2.74" fill="#e8851a"/>
<circle cx="-15.71" cy="17.63" r="2.74" fill="#e8851a"/>
<circle cx="-13.97" cy="17.50" r="2.74" fill="#e8851a"/>
<circle cx="-12.68" cy="19.68" r="2.29" fill="#fbc02d"/>
<circle cx="-15.23" cy="21.36" r="2.29" fill="#fbc02d"/>
<circle cx="-16.43" cy="20.47" r="2.29" fill="#fbc02d"/>
<circle cx="-15.71" cy="17.63" r="2.29" fill="#fbc02d"/>
<circle cx="-13.97" cy="17.50" r="2.29" fill="#fbc02d"/>
<circle cx="-14.70" cy="19.40" r="2.22" fill="#fdd835"/>
<circle cx="-13.59" cy="20.70" r="1.29" fill="#f6a21c"/>
<circle cx="-15.44" cy="18.47" r="1.04" fill="#fff59d"/>
<circle cx="10.97" cy="21.55" r="3.12" fill="#e8851a"/>
<circle cx="8.91" cy="23.26" r="3.12" fill="#e8851a"/>
<circle cx="6.68" cy="22.13" r="3.12" fill="#e8851a"/>
<circle cx="7.73" cy="18.74" r="3.12" fill="#e8851a"/>
<circle cx="9.44" cy="18.65" r="3.12" fill="#e8851a"/>
<circle cx="10.97" cy="21.55" r="2.67" fill="#fbc02d"/>
<circle cx="8.91" cy="23.26" r="2.67" fill="#fbc02d"/>
<circle cx="6.68" cy="22.13" r="2.67" fill="#fbc02d"/>
<circle cx="7.73" cy="18.74" r="2.67" fill="#fbc02d"/>
<circle cx="9.44" cy="18.65" r="2.67" fill="#fbc02d"/>
<circle cx="8.70" cy="20.90" r="2.58" fill="#fdd835"/>
<circle cx="9.99" cy="22.40" r="1.50" fill="#f6a21c"/>
<circle cx="7.84" cy="19.82" r="1.20" fill="#fff59d"/>
<circle cx="-12" cy="1" r="6.6" fill="#ef8f12"/>
<circle cx="-5" cy="-4" r="7.6" fill="#ef8f12"/>
<circle cx="3" cy="-5" r="7.1" fill="#ef8f12"/>
<circle cx="10" cy="-2" r="6.6" fill="#ef8f12"/>
<circle cx="14" cy="2" r="5.6" fill="#ef8f12"/>
<circle cx="-4" cy="4.5" r="7.1" fill="#ef8f12"/>
<circle cx="5" cy="5" r="7.1" fill="#ef8f12"/>
<circle cx="-10" cy="5" r="5.6" fill="#ef8f12"/>
<circle cx="-12" cy="1" r="6" fill="#ffd83a"/>
<circle cx="-5" cy="-4" r="7" fill="#ffd83a"/>
<circle cx="3" cy="-5" r="6.5" fill="#ffd83a"/>
<circle cx="10" cy="-2" r="6" fill="#ffd83a"/>
<circle cx="14" cy="2" r="5" fill="#ffd83a"/>
<circle cx="-4" cy="4.5" r="6.5" fill="#ffd83a"/>
<circle cx="5" cy="5" r="6.5" fill="#ffd83a"/>
<circle cx="-10" cy="5" r="5" fill="#ffd83a"/>
<circle cx="-6" cy="-5" r="4.8" fill="#fff8c4"/>
<circle cx="3" cy="-6.5" r="4.6" fill="#fff8c4"/>
<circle cx="10" cy="-3.5" r="3.8" fill="#fff8c4"/>
<circle cx="-11" cy="0" r="3.2" fill="#fff8c4"/>
<g transform="rotate(-12) skewX(-8)"><text x="-22.8" y="4.6" font-size="9.4" font-weight="bold" fill="#48bbf0" stroke="#163a63" stroke-width="1.05" paint-order="stroke" stroke-linejoin="round" textLength="46" lengthAdjust="spacingAndGlyphs">AWESOME!</text></g>
</g>
<g transform="translate(211,335) scale(1.0) translate(-211,-335)">
<g opacity="0.82">
<circle cx="212.9" cy="295.0" r="2.2" fill="#9e9e9e"/>
<rect x="205.0" y="272.1" width="3.8" height="3.8" rx="0.7" fill="#f4511e" transform="rotate(-27 206.9 274.0)"/>
<circle cx="225.1" cy="303.6" r="1.8" fill="#f4511e"/>
<rect x="184.6" y="296.4" width="3.5" height="3.5" rx="0.7" fill="#ec407a" transform="rotate(18 186.4 298.1)"/>
<circle cx="209.1" cy="308.0" r="1.7" fill="#9e9e9e"/>
<circle cx="192.6" cy="302.8" r="1.9" fill="#43a047"/>
<rect x="191.7" y="287.0" width="3.6" height="3.6" rx="0.7" fill="#ec407a" transform="rotate(-24 193.5 288.8)"/>
<circle cx="225.2" cy="309.8" r="2.0" fill="#ec407a"/>
<circle cx="233.8" cy="303.8" r="2.4" fill="#8e24aa"/>
<circle cx="178.6" cy="294.6" r="1.8" fill="#e53935"/>
<circle cx="235.5" cy="296.1" r="2.4" fill="#fb8c00"/>
<circle cx="199.1" cy="283.1" r="2.0" fill="#fb8c00"/>
<circle cx="223.3" cy="296.9" r="1.7" fill="#00acc1"/>
<rect x="207.1" y="280.0" width="3.6" height="3.6" rx="0.7" fill="#9e9e9e" transform="rotate(-24 208.9 281.8)"/>
<circle cx="232.4" cy="311.8" r="1.9" fill="#9e9e9e"/>
<rect x="179.1" y="304.5" width="5.7" height="2.6" rx="0.6" fill="#1e88e5" transform="rotate(-8 181.9 305.8)"/>
<circle cx="196.6" cy="308.8" r="2.0" fill="#fb8c00"/>
<circle cx="205.1" cy="296.4" r="1.9" fill="#29b6f6"/>
<rect x="215.1" y="310.0" width="3.6" height="3.6" rx="0.7" fill="#fb8c00" transform="rotate(6 216.9 311.8)"/>
<rect x="229.9" y="290.5" width="4.2" height="4.2" rx="0.7" fill="#e53935" transform="rotate(-13 232.0 292.6)"/>
<rect x="194.1" y="291.9" width="5.5" height="2.6" rx="0.6" fill="#8e24aa" transform="rotate(31 196.8 293.2)"/>
<rect x="217.0" y="291.9" width="4.5" height="2.1" rx="0.6" fill="#00acc1" transform="rotate(-15 219.2 293.0)"/>
<rect x="190.4" y="311.9" width="4.7" height="2.2" rx="0.6" fill="#e53935" transform="rotate(42 192.8 313.0)"/>
<circle cx="215.6" cy="275.2" r="1.9" fill="#fb8c00"/>
<rect x="178.9" y="309.5" width="3.8" height="3.8" rx="0.7" fill="#8e24aa" transform="rotate(29 180.8 311.4)"/>
<rect x="191.6" y="317.4" width="4.4" height="4.4" rx="0.7" fill="#00acc1" transform="rotate(19 193.8 319.6)"/>
<circle cx="213.6" cy="303.8" r="1.9" fill="#1e88e5"/>
<rect x="182.4" y="282.8" width="5.7" height="2.6" rx="0.6" fill="#8e24aa" transform="rotate(-33 185.2 284.1)"/>
<rect x="215.1" y="298.3" width="4.7" height="4.7" rx="0.7" fill="#7cb342" transform="rotate(-11 217.5 300.6)"/>
<rect x="197.4" y="311.4" width="3.8" height="3.8" rx="0.7" fill="#e53935" transform="rotate(-17 199.3 313.2)"/>
<rect x="215.0" y="279.8" width="3.3" height="3.3" rx="0.7" fill="#1e88e5" transform="rotate(-11 216.7 281.4)"/>
<rect x="184.5" y="314.1" width="3.2" height="3.2" rx="0.7" fill="#43a047" transform="rotate(24 186.1 315.7)"/>
<rect x="199.6" y="288.8" width="4.8" height="4.8" rx="0.7" fill="#29b6f6" transform="rotate(22 202.0 291.2)"/>
<rect x="200.4" y="307.0" width="3.4" height="3.4" rx="0.7" fill="#f4511e" transform="rotate(-29 202.1 308.7)"/>
<circle cx="225.1" cy="289.2" r="2.0" fill="#29b6f6"/>
<rect x="228.9" y="281.1" width="4.3" height="4.3" rx="0.7" fill="#29b6f6" transform="rotate(9 231.0 283.3)"/>
<rect x="198.1" y="273.7" width="3.3" height="3.3" rx="0.7" fill="#43a047" transform="rotate(-29 199.7 275.4)"/>
<circle cx="175.5" cy="298.8" r="2.1" fill="#ec407a"/>
<rect x="223.1" y="279.2" width="5.6" height="2.6" rx="0.6" fill="#fdd835" transform="rotate(-47 225.9 280.4)"/>
<rect x="215.4" y="305.3" width="5.8" height="2.7" rx="0.6" fill="#43a047" transform="rotate(41 218.3 306.7)"/>
<circle cx="234.4" cy="286.8" r="2.2" fill="#29b6f6"/>
<circle cx="200.1" cy="322.3" r="1.8" fill="#29b6f6"/>
<rect x="206.8" y="298.1" width="4.2" height="4.2" rx="0.7" fill="#43a047" transform="rotate(7 208.9 300.2)"/>
<rect x="188.9" y="276.1" width="3.6" height="3.6" rx="0.7" fill="#f4511e" transform="rotate(27 190.7 277.9)"/>
<circle cx="222.1" cy="276.4" r="1.7" fill="#fdd835"/>
<rect x="221.6" y="312.9" width="4.0" height="4.0" rx="0.7" fill="#00acc1" transform="rotate(21 223.6 314.9)"/>
<rect x="184.9" y="308.5" width="6.0" height="2.8" rx="0.6" fill="#8e24aa" transform="rotate(-46 187.8 309.9)"/>
<circle cx="202.4" cy="302.7" r="2.3" fill="#1e88e5"/>
<rect x="207.5" y="285.2" width="3.5" height="3.5" rx="0.7" fill="#7cb342" transform="rotate(7 209.3 286.9)"/>
<circle cx="229.5" cy="298.5" r="1.8" fill="#29b6f6"/>
<rect x="177.1" y="283.5" width="5.6" height="2.6" rx="0.6" fill="#29b6f6" transform="rotate(-18 179.9 284.8)"/>
<rect x="184.6" y="303.7" width="6.0" height="2.8" rx="0.6" fill="#1e88e5" transform="rotate(-45 187.6 305.1)"/>
<circle cx="191.9" cy="297.7" r="2.2" fill="#ec407a"/>
<circle cx="184.5" cy="289.1" r="1.9" fill="#f4511e"/>
<circle cx="214.3" cy="289.9" r="2.2" fill="#e53935"/>
<circle cx="219.6" cy="286.6" r="2.0" fill="#e53935"/>
<rect x="195.3" y="301.1" width="4.2" height="4.2" rx="0.7" fill="#8e24aa" transform="rotate(13 197.3 303.2)"/>
<rect x="187.2" y="290.6" width="3.4" height="3.4" rx="0.7" fill="#ec407a" transform="rotate(-24 188.9 292.3)"/>
<rect x="204.7" y="310.7" width="3.9" height="3.9" rx="0.7" fill="#e53935" transform="rotate(-17 206.7 312.6)"/>
<rect x="178.3" y="297.6" width="4.5" height="4.5" rx="0.7" fill="#1e88e5" transform="rotate(-7 180.5 299.9)"/>
<circle cx="204.5" cy="279.9" r="2.2" fill="#29b6f6"/>
<circle cx="197.5" cy="298.1" r="1.6" fill="#8e24aa"/>
<circle cx="195.8" cy="279.1" r="1.8" fill="#fb8c00"/>
<circle cx="201.5" cy="317.6" r="2.0" fill="#ec407a"/>
<circle cx="228.8" cy="306.6" r="2.4" fill="#29b6f6"/>
<circle cx="219.0" cy="318.5" r="2.0" fill="#9e9e9e"/>
<circle cx="191.7" cy="283.9" r="2.3" fill="#fdd835"/>
<circle cx="228.8" cy="315.2" r="2.3" fill="#00acc1"/>
<circle cx="208.2" cy="292.5" r="2.2" fill="#43a047"/>
<rect x="201.4" y="283.7" width="3.7" height="3.7" rx="0.7" fill="#43a047" transform="rotate(17 203.3 285.5)"/>
<rect x="175.3" y="302.9" width="3.9" height="3.9" rx="0.7" fill="#29b6f6" transform="rotate(2 177.3 304.8)"/>
<rect x="174.7" y="287.9" width="4.9" height="2.3" rx="0.6" fill="#7cb342" transform="rotate(-29 177.1 289.0)"/>
</g>
<path d="M206.6 335 Q210.2 327 209.6 317 Q209 309 204 303.5 L206 302 Q211.5 307 212.2 316 Q212.8 327 215.2 335 Z" fill="#6a2c91"/>
<path d="M205 303.2 Q202.8 301.5 202.28 303.43" fill="none" stroke="#6a2c91" stroke-width="2.0" stroke-linecap="round" stroke-linejoin="round"/>
<path d="M202.28 303.43 L200.79 302.35 L199.49 301.07 L198.40 299.63 L197.54 298.07 L196.92 296.41 L196.56 294.69 L196.45 292.96 L196.60 291.24 L196.99 289.59 L197.62 288.03 L198.46 286.59 L199.49 285.30 L200.69 284.19 L202.02 283.28 L203.46 282.58 L204.97 282.10 L206.51 281.86 L208.05 281.84 L209.57 282.05 L211.02 282.48 L212.37 283.10 L213.61 283.91 L214.70 284.88 L215.62 285.98 L216.36 287.20 L216.91 288.49 L217.26 289.84 L217.40 291.20 L217.35 292.56 L217.09 293.87 L216.66 295.11 L216.05 296.26 L215.29 297.30 L214.39 298.20 L213.39 298.95 L212.31 299.53 L211.16 299.94 L209.99 300.18 L208.81 300.24 L207.65 300.12 L206.54 299.84 L205.50 299.41 L204.55 298.83 L203.71 298.13 L202.99 297.33 L202.41 296.45 L201.97 295.50 L201.68 294.52 L201.54 293.52 L201.55 292.53 L201.71 291.57 L202.00 290.66 L202.42 289.82 L202.94 289.06 L203.56 288.41 L204.26 287.86 L205.01 287.43 L205.81 287.13 L206.62 286.95 L207.44 286.89 L208.24 286.96 L209.00 287.14 L209.71 287.43 L210.35 287.81 L210.92 288.27 L211.40 288.80 L211.79 289.38 L212.07 289.99 L212.26 290.63 L212.34 291.27 L212.33 291.89 L212.23 292.50 L212.04 293.06 L211.77 293.57 L211.44 294.03 L211.06 294.41 L210.64 294.72 L210.19 294.96 L209.72 295.11 L209.25 295.19 L208.80 295.20 L208.36 295.14 L207.95 295.01 L207.59 294.83 L207.27 294.60 L207.00 294.34 L206.79 294.05 L206.64 293.75 L206.54 293.44 L206.50 293.13" fill="none" stroke="#6a2c91" stroke-width="2.1" stroke-linecap="round" stroke-linejoin="round"/>
<path d="M209.5 313.5 Q200 311 192.44 300.45" fill="none" stroke="#6a2c91" stroke-width="1.4" stroke-linecap="round" stroke-linejoin="round"/>
<path d="M192.44 300.45 L191.91 299.52 L191.24 298.72 L190.45 298.06 L189.56 297.56 L188.62 297.23 L187.64 297.07 L186.67 297.10 L185.73 297.29 L184.86 297.64 L184.07 298.13 L183.40 298.75 L182.85 299.46 L182.45 300.25 L182.21 301.08 L182.11 301.92 L182.17 302.76 L182.37 303.56 L182.70 304.29 L183.16 304.94 L183.71 305.49 L184.33 305.92 L185.02 306.22 L185.73 306.40 L186.44 306.44 L187.14 306.36 L187.79 306.16 L188.39 305.85 L188.91 305.44 L189.33 304.96 L189.66 304.43 L189.88 303.86 L189.99 303.27 L189.99 302.69 L189.89 302.13 L189.69 301.62 L189.41 301.16 L189.07 300.77 L188.67 300.45 L188.23 300.23 L187.77 300.09 L187.31 300.04 L186.87 300.07 L186.45 300.18 L186.07 300.36 L185.75 300.60 L185.48 300.88 L185.28 301.20 L185.14 301.53 L185.08 301.87 L185.08 302.20 L185.14 302.51 L185.25 302.79 L185.40 303.03 L185.59 303.22 L185.80 303.37 L186.02 303.47 L186.25 303.51 L186.46 303.52 L186.66 303.47 L186.83 303.40" fill="none" stroke="#6a2c91" stroke-width="1.6" stroke-linecap="round" stroke-linejoin="round"/>
<path d="M211.3 313 Q214.5 304 220.56 296.55" fill="none" stroke="#6a2c91" stroke-width="1.4" stroke-linecap="round" stroke-linejoin="round"/>
<path d="M220.56 296.55 L221.09 295.62 L221.76 294.82 L222.55 294.16 L223.44 293.66 L224.38 293.33 L225.36 293.17 L226.33 293.20 L227.27 293.39 L228.14 293.74 L228.93 294.23 L229.60 294.85 L230.15 295.56 L230.55 296.35 L230.79 297.18 L230.89 298.02 L230.83 298.86 L230.63 299.66 L230.30 300.39 L229.84 301.04 L229.29 301.59 L228.67 302.02 L227.98 302.32 L227.27 302.50 L226.56 302.54 L225.86 302.46 L225.21 302.26 L224.61 301.95 L224.09 301.54 L223.67 301.06 L223.34 300.53 L223.12 299.96 L223.01 299.37 L223.01 298.79 L223.11 298.23 L223.31 297.72 L223.59 297.26 L223.93 296.87 L224.33 296.55 L224.77 296.33 L225.23 296.19 L225.69 296.14 L226.13 296.17 L226.55 296.28 L226.93 296.46 L227.25 296.70 L227.52 296.98 L227.72 297.30 L227.86 297.63 L227.92 297.97 L227.92 298.30 L227.86 298.61 L227.75 298.89 L227.60 299.13 L227.41 299.32 L227.20 299.47 L226.98 299.57 L226.75 299.61 L226.54 299.62 L226.34 299.57 L226.17 299.50" fill="none" stroke="#6a2c91" stroke-width="1.6" stroke-linecap="round" stroke-linejoin="round"/>
<path d="M193.06 281.87 L193.40 281.30 L193.63 280.68 L193.76 280.04 L193.77 279.41 L193.68 278.78 L193.49 278.19 L193.20 277.65 L192.84 277.18 L192.41 276.77 L191.92 276.45 L191.39 276.22 L190.85 276.09 L190.30 276.05 L189.75 276.10 L189.24 276.24 L188.76 276.47 L188.34 276.76 L187.98 277.11 L187.68 277.52 L187.47 277.95 L187.33 278.41 L187.28 278.88 L187.30 279.34 L187.40 279.78 L187.57 280.18 L187.80 280.55 L188.09 280.86 L188.41 281.12 L188.77 281.31 L189.14 281.43 L189.52 281.49 L189.89 281.48 L190.25 281.42 L190.59 281.29 L190.88 281.11 L191.14 280.89 L191.35 280.64 L191.51 280.36 L191.61 280.07 L191.67 279.78 L191.67 279.49 L191.62 279.21 L191.52 278.95 L191.39 278.73 L191.23 278.53 L191.04 278.37 L190.84 278.26 L190.62 278.18 L190.41 278.15 L190.20 278.15 L190.01 278.19 L189.83 278.26 L189.68 278.36 L189.55 278.47 L189.46 278.60 L189.39 278.74 L189.35 278.88 L189.34 279.02 L189.36 279.15 L189.40 279.26" fill="none" stroke="#6a2c91" stroke-width="1.1" stroke-linecap="round" stroke-linejoin="round"/>
<path d="M193.06 281.87 Q195 284 196.5 287.5" fill="none" stroke="#6a2c91" stroke-width="1.1" stroke-linecap="round" stroke-linejoin="round"/>
<path d="M219.54 284.17 L219.20 283.60 L218.97 282.98 L218.84 282.34 L218.83 281.71 L218.92 281.08 L219.11 280.49 L219.40 279.95 L219.76 279.48 L220.19 279.07 L220.68 278.75 L221.21 278.52 L221.75 278.39 L222.30 278.35 L222.85 278.40 L223.36 278.54 L223.84 278.77 L224.26 279.06 L224.62 279.41 L224.92 279.82 L225.13 280.25 L225.27 280.71 L225.32 281.18 L225.30 281.64 L225.20 282.08 L225.03 282.48 L224.80 282.85 L224.51 283.16 L224.19 283.42 L223.83 283.61 L223.46 283.73 L223.08 283.79 L222.71 283.78 L222.35 283.72 L222.01 283.59 L221.72 283.41 L221.46 283.19 L221.25 282.94 L221.09 282.66 L220.99 282.37 L220.93 282.08 L220.93 281.79 L220.98 281.51 L221.08 281.25 L221.21 281.03 L221.37 280.83 L221.56 280.67 L221.76 280.56 L221.98 280.48 L222.19 280.45 L222.40 280.45 L222.59 280.49 L222.77 280.56 L222.92 280.66 L223.05 280.77 L223.14 280.90 L223.21 281.04 L223.25 281.18 L223.26 281.32 L223.24 281.45 L223.20 281.56" fill="none" stroke="#6a2c91" stroke-width="1.1" stroke-linecap="round" stroke-linejoin="round"/>
<path d="M219.54 284.17 Q218 285 216.8 285.8" fill="none" stroke="#6a2c91" stroke-width="1.1" stroke-linecap="round" stroke-linejoin="round"/>
<path d="M222.54 315.40 L222.32 314.81 L222.20 314.21 L222.18 313.60 L222.25 313.01 L222.41 312.44 L222.66 311.91 L222.98 311.44 L223.36 311.03 L223.80 310.69 L224.28 310.43 L224.79 310.25 L225.31 310.15 L225.83 310.14 L226.34 310.21 L226.82 310.36 L227.26 310.57 L227.65 310.85 L227.99 311.19 L228.27 311.56 L228.48 311.97 L228.62 312.39 L228.69 312.83 L228.69 313.26 L228.63 313.68 L228.50 314.07 L228.31 314.43 L228.07 314.75 L227.79 315.01 L227.48 315.23 L227.15 315.39 L226.80 315.49 L226.45 315.54 L226.11 315.53 L225.78 315.46 L225.48 315.35 L225.20 315.19 L224.96 315.00 L224.76 314.77 L224.61 314.53 L224.50 314.27 L224.43 314.00 L224.42 313.74 L224.44 313.48 L224.50 313.24 L224.60 313.02 L224.73 312.83 L224.88 312.67 L225.05 312.54 L225.23 312.45 L225.42 312.39 L225.60 312.36 L225.78 312.37 L225.95 312.40 L226.10 312.47 L226.23 312.55 L226.34 312.64 L226.42 312.75 L226.48 312.87 L226.51 312.99 L226.52 313.10" fill="none" stroke="#6a2c91" stroke-width="1.0" stroke-linecap="round" stroke-linejoin="round"/>
<path d="M212 318.5 Q218 318.5 222.54 315.40" fill="none" stroke="#6a2c91" stroke-width="1.1" stroke-linecap="round" stroke-linejoin="round"/>
<path d="M186.42 314.63 L186.50 314.19 L186.51 313.76 L186.46 313.34 L186.35 312.93 L186.18 312.56 L185.97 312.21 L185.71 311.91 L185.41 311.65 L185.08 311.44 L184.73 311.29 L184.37 311.19 L184.00 311.14 L183.63 311.15 L183.28 311.22 L182.95 311.33 L182.64 311.49 L182.37 311.69 L182.13 311.92 L181.93 312.18 L181.78 312.46 L181.67 312.76 L181.61 313.06 L181.59 313.36 L181.62 313.66 L181.69 313.94 L181.80 314.20 L181.95 314.44 L182.12 314.64 L182.32 314.82 L182.54 314.96 L182.77 315.06 L183.01 315.13 L183.25 315.16 L183.48 315.15 L183.71 315.11 L183.92 315.04 L184.11 314.93 L184.28 314.81 L184.42 314.66 L184.54 314.50 L184.62 314.33 L184.68 314.16 L184.71 313.98 L184.71 313.80 L184.69 313.64 L184.64 313.48 L184.57 313.34 L184.48 313.22 L184.38 313.12 L184.27 313.04 L184.15 312.98 L184.03 312.94 L183.91 312.92 L183.80 312.92 L183.69 312.94 L183.60 312.98 L183.51 313.03 L183.44 313.09 L183.39 313.16 L183.35 313.23" fill="none" stroke="#6a2c91" stroke-width="0.9" stroke-linecap="round" stroke-linejoin="round"/>
<path d="M186.42 314.63 Q190 314 193 309" fill="none" stroke="#6a2c91" stroke-width="0.9" stroke-linecap="round" stroke-linejoin="round"/>
</g>
<text x="243.20" y="143.30" font-size="13.7" fill="#bb1720" stroke="#bb1720" stroke-width="0.38" font-weight="normal" font-style="normal" textLength="136.60" lengthAdjust="spacingAndGlyphs" >Catholic Social Teaching</text>
<text x="236.70" y="155.50" font-size="7.6" fill="#bb1720" stroke="#bb1720" stroke-width="0.21" font-weight="normal" font-style="normal" textLength="149.10" lengthAdjust="spacingAndGlyphs" >Through 7 principles, we aim to nurture kind</text>
<text x="237.50" y="164.70" font-size="7.6" fill="#bb1720" stroke="#bb1720" stroke-width="0.21" font-weight="normal" font-style="normal" textLength="148.00" lengthAdjust="spacingAndGlyphs" >leaders who will change the world and make</text>
<text x="285.00" y="173.90" font-size="7.6" fill="#bb1720" stroke="#bb1720" stroke-width="0.21" font-weight="normal" font-style="normal" textLength="53.00" lengthAdjust="spacingAndGlyphs" >it a better place</text>
<text x="258.20" y="218.30" font-size="13.7" fill="#bb1720" stroke="#bb1720" stroke-width="0.38" font-weight="normal" font-style="normal" textLength="149.80" lengthAdjust="spacingAndGlyphs" >Awesome Learning Values</text>
<text x="264.60" y="230.50" font-size="7.6" fill="#bb1720" stroke="#bb1720" stroke-width="0.21" font-weight="normal" font-style="normal" textLength="137.40" lengthAdjust="spacingAndGlyphs" >Through our 5 learning values, we aim to</text>
<text x="268.00" y="239.60" font-size="7.6" fill="#bb1720" stroke="#bb1720" stroke-width="0.21" font-weight="normal" font-style="normal" textLength="129.70" lengthAdjust="spacingAndGlyphs" >enable pupils to be the most awesome</text>
<text x="296.50" y="248.80" font-size="7.6" fill="#bb1720" stroke="#bb1720" stroke-width="0.21" font-weight="normal" font-style="normal" textLength="72.50" lengthAdjust="spacingAndGlyphs" >version of themselves</text>
<text x="243.20" y="294.60" font-size="13.7" fill="#bb1720" stroke="#bb1720" stroke-width="0.38" font-weight="normal" font-style="normal" textLength="133.00" lengthAdjust="spacingAndGlyphs" >Curriculum Enrichment</text>
<text x="247.80" y="306.80" font-size="7.6" fill="#bb1720" stroke="#bb1720" stroke-width="0.21" font-weight="normal" font-style="normal" textLength="132.20" lengthAdjust="spacingAndGlyphs" >Through our enrichment opportunities,</text>
<text x="251.70" y="316.00" font-size="7.6" fill="#bb1720" stroke="#bb1720" stroke-width="0.21" font-weight="normal" font-style="normal" textLength="123.30" lengthAdjust="spacingAndGlyphs" >we aim to close the gap for our most</text>
<text x="279.00" y="325.20" font-size="7.6" fill="#bb1720" stroke="#bb1720" stroke-width="0.21" font-weight="normal" font-style="normal" textLength="68.00" lengthAdjust="spacingAndGlyphs" >disadvantaged pupils</text>
<rect x="171.8" y="352.8" width="164.0" height="52.0" rx="8" fill="#d9ddee"/>
<rect x="171.8" y="415.3" width="164.0" height="51.8" rx="8" fill="#d9ddee"/>
<rect x="66.6" y="352.0" width="104.2" height="52.0" rx="6.5" fill="#d86c7a"/>
<rect x="66.6" y="415.6" width="104.2" height="50.1" rx="6.5" fill="#d86c7a"/>
<text x="75.70" y="384.30" font-size="19.0" fill="#ffffff" stroke="#ffffff" stroke-width="0.15" font-weight="normal" font-style="normal" textLength="86.70" lengthAdjust="spacingAndGlyphs" >Knowledge</text>
<text x="99.80" y="446.60" font-size="19.0" fill="#ffffff" stroke="#ffffff" stroke-width="0.15" font-weight="normal" font-style="normal" textLength="38.20" lengthAdjust="spacingAndGlyphs" >Skills</text>
<circle cx="176.9" cy="365.7" r="1.8" fill="#111111"/>
<circle cx="176.9" cy="390.7" r="1.8" fill="#111111"/>
<circle cx="176.9" cy="424.1" r="1.8" fill="#111111"/>
<circle cx="176.9" cy="437.5" r="1.8" fill="#111111"/>
<circle cx="176.9" cy="451.3" r="1.8" fill="#111111"/>
<text x="182.90" y="369.40" font-size="9.3" fill="#111111" stroke="#111111" stroke-width="0.26" font-weight="normal" font-style="normal" textLength="113.60" lengthAdjust="spacingAndGlyphs" >Developing subject specific</text>
<text x="182.90" y="381.20" font-size="9.3" fill="#111111" stroke="#111111" stroke-width="0.26" font-weight="normal" font-style="normal" textLength="45.70" lengthAdjust="spacingAndGlyphs" >knowledge</text>
<text x="182.90" y="394.40" font-size="9.3" fill="#111111" stroke="#111111" stroke-width="0.26" font-weight="normal" font-style="normal" textLength="98.10" lengthAdjust="spacingAndGlyphs" >Building cultural capital</text>
<text x="182.90" y="427.90" font-size="9.3" fill="#111111" stroke="#111111" stroke-width="0.26" font-weight="normal" font-style="normal" textLength="103.10" lengthAdjust="spacingAndGlyphs" >Securing reading fluency</text>
<text x="182.90" y="441.20" font-size="9.3" fill="#111111" stroke="#111111" stroke-width="0.26" font-weight="normal" font-style="normal" textLength="136.10" lengthAdjust="spacingAndGlyphs" >Developing subject specific skills</text>
<text x="182.90" y="454.40" font-size="9.3" fill="#111111" stroke="#111111" stroke-width="0.26" font-weight="normal" font-style="normal" textLength="146.60" lengthAdjust="spacingAndGlyphs" >Honing our learning characteristics</text>
<g transform="translate(431.5,173.2) scale(0.676,0.74)">
<line x1="12.48" y1="0.62" x2="24.47" y2="1.22" stroke="#e8dbb0" stroke-width="0.85" vector-effect="non-scaling-stroke"/>
<line x1="25.77" y1="1.29" x2="28.46" y2="1.42" stroke="#e8dbb0" stroke-width="0.85" vector-effect="non-scaling-stroke"/>
<line x1="14.23" y1="2.78" x2="21.10" y2="4.12" stroke="#e8dbb0" stroke-width="0.85" vector-effect="non-scaling-stroke"/>
<line x1="22.57" y1="4.41" x2="25.52" y2="4.98" stroke="#e8dbb0" stroke-width="0.85" vector-effect="non-scaling-stroke"/>
<line x1="11.80" y1="4.12" x2="23.13" y2="8.07" stroke="#e8dbb0" stroke-width="0.85" vector-effect="non-scaling-stroke"/>
<line x1="24.36" y1="8.50" x2="26.91" y2="9.39" stroke="#e8dbb0" stroke-width="0.85" vector-effect="non-scaling-stroke"/>
<line x1="12.87" y1="6.68" x2="19.09" y2="9.90" stroke="#e8dbb0" stroke-width="0.85" vector-effect="non-scaling-stroke"/>
<line x1="20.42" y1="10.59" x2="23.08" y2="11.97" stroke="#e8dbb0" stroke-width="0.85" vector-effect="non-scaling-stroke"/>
<line x1="10.16" y1="7.28" x2="19.92" y2="14.26" stroke="#e8dbb0" stroke-width="0.85" vector-effect="non-scaling-stroke"/>
<line x1="20.98" y1="15.02" x2="23.18" y2="16.59" stroke="#e8dbb0" stroke-width="0.85" vector-effect="non-scaling-stroke"/>
<line x1="10.47" y1="10.03" x2="15.52" y2="14.87" stroke="#e8dbb0" stroke-width="0.85" vector-effect="non-scaling-stroke"/>
<line x1="16.61" y1="15.91" x2="18.77" y2="17.99" stroke="#e8dbb0" stroke-width="0.85" vector-effect="non-scaling-stroke"/>
<line x1="7.70" y1="9.84" x2="15.10" y2="19.29" stroke="#e8dbb0" stroke-width="0.85" vector-effect="non-scaling-stroke"/>
<line x1="15.90" y1="20.32" x2="17.56" y2="22.44" stroke="#e8dbb0" stroke-width="0.85" vector-effect="non-scaling-stroke"/>
<line x1="7.22" y1="12.57" x2="10.71" y2="18.65" stroke="#e8dbb0" stroke-width="0.85" vector-effect="non-scaling-stroke"/>
<line x1="11.45" y1="19.95" x2="12.95" y2="22.55" stroke="#e8dbb0" stroke-width="0.85" vector-effect="non-scaling-stroke"/>
<line x1="4.62" y1="11.62" x2="9.05" y2="22.77" stroke="#e8dbb0" stroke-width="0.85" vector-effect="non-scaling-stroke"/>
<line x1="9.53" y1="23.97" x2="10.53" y2="26.48" stroke="#e8dbb0" stroke-width="0.85" vector-effect="non-scaling-stroke"/>
<line x1="3.38" y1="14.10" x2="5.02" y2="20.91" stroke="#e8dbb0" stroke-width="0.85" vector-effect="non-scaling-stroke"/>
<line x1="5.37" y1="22.36" x2="6.07" y2="25.28" stroke="#e8dbb0" stroke-width="0.85" vector-effect="non-scaling-stroke"/>
<line x1="1.16" y1="12.45" x2="2.27" y2="24.39" stroke="#e8dbb0" stroke-width="0.85" vector-effect="non-scaling-stroke"/>
<line x1="2.39" y1="25.69" x2="2.64" y2="28.38" stroke="#e8dbb0" stroke-width="0.85" vector-effect="non-scaling-stroke"/>
<line x1="-0.72" y1="14.48" x2="-1.07" y2="21.47" stroke="#e8dbb0" stroke-width="0.85" vector-effect="non-scaling-stroke"/>
<line x1="-1.15" y1="22.97" x2="-1.30" y2="25.97" stroke="#e8dbb0" stroke-width="0.85" vector-effect="non-scaling-stroke"/>
<line x1="-2.40" y1="12.27" x2="-4.69" y2="24.05" stroke="#e8dbb0" stroke-width="0.85" vector-effect="non-scaling-stroke"/>
<line x1="-4.94" y1="25.32" x2="-5.46" y2="27.97" stroke="#e8dbb0" stroke-width="0.85" vector-effect="non-scaling-stroke"/>
<line x1="-4.78" y1="13.69" x2="-7.08" y2="20.30" stroke="#e8dbb0" stroke-width="0.85" vector-effect="non-scaling-stroke"/>
<line x1="-7.57" y1="21.72" x2="-8.56" y2="24.55" stroke="#e8dbb0" stroke-width="0.85" vector-effect="non-scaling-stroke"/>
<line x1="-5.75" y1="11.10" x2="-11.28" y2="21.75" stroke="#e8dbb0" stroke-width="0.85" vector-effect="non-scaling-stroke"/>
<line x1="-11.88" y1="22.90" x2="-13.12" y2="25.30" stroke="#e8dbb0" stroke-width="0.85" vector-effect="non-scaling-stroke"/>
<line x1="-8.44" y1="11.79" x2="-12.51" y2="17.48" stroke="#e8dbb0" stroke-width="0.85" vector-effect="non-scaling-stroke"/>
<line x1="-13.39" y1="18.70" x2="-15.13" y2="21.14" stroke="#e8dbb0" stroke-width="0.85" vector-effect="non-scaling-stroke"/>
<line x1="-8.65" y1="9.03" x2="-16.95" y2="17.69" stroke="#e8dbb0" stroke-width="0.85" vector-effect="non-scaling-stroke"/>
<line x1="-17.85" y1="18.63" x2="-19.72" y2="20.58" stroke="#e8dbb0" stroke-width="0.85" vector-effect="non-scaling-stroke"/>
<line x1="-11.42" y1="8.94" x2="-16.93" y2="13.25" stroke="#e8dbb0" stroke-width="0.85" vector-effect="non-scaling-stroke"/>
<line x1="-18.11" y1="14.17" x2="-20.48" y2="16.02" stroke="#e8dbb0" stroke-width="0.85" vector-effect="non-scaling-stroke"/>
<line x1="-10.84" y1="6.22" x2="-21.25" y2="12.20" stroke="#e8dbb0" stroke-width="0.85" vector-effect="non-scaling-stroke"/>
<line x1="-22.37" y1="12.85" x2="-24.72" y2="14.19" stroke="#e8dbb0" stroke-width="0.85" vector-effect="non-scaling-stroke"/>
<line x1="-13.47" y1="5.36" x2="-19.98" y2="7.94" stroke="#e8dbb0" stroke-width="0.85" vector-effect="non-scaling-stroke"/>
<line x1="-21.37" y1="8.50" x2="-24.16" y2="9.61" stroke="#e8dbb0" stroke-width="0.85" vector-effect="non-scaling-stroke"/>
<line x1="-12.15" y1="2.92" x2="-23.82" y2="5.72" stroke="#e8dbb0" stroke-width="0.85" vector-effect="non-scaling-stroke"/>
<line x1="-25.09" y1="6.02" x2="-27.71" y2="6.65" stroke="#e8dbb0" stroke-width="0.85" vector-effect="non-scaling-stroke"/>
<line x1="-14.44" y1="1.34" x2="-21.41" y2="1.99" stroke="#e8dbb0" stroke-width="0.85" vector-effect="non-scaling-stroke"/>
<line x1="-22.90" y1="2.13" x2="-25.89" y2="2.41" stroke="#e8dbb0" stroke-width="0.85" vector-effect="non-scaling-stroke"/>
<line x1="-12.48" y1="-0.62" x2="-24.47" y2="-1.22" stroke="#e8dbb0" stroke-width="0.85" vector-effect="non-scaling-stroke"/>
<line x1="-25.77" y1="-1.29" x2="-28.46" y2="-1.42" stroke="#e8dbb0" stroke-width="0.85" vector-effect="non-scaling-stroke"/>
<line x1="-14.23" y1="-2.78" x2="-21.10" y2="-4.12" stroke="#e8dbb0" stroke-width="0.85" vector-effect="non-scaling-stroke"/>
<line x1="-22.57" y1="-4.41" x2="-25.52" y2="-4.98" stroke="#e8dbb0" stroke-width="0.85" vector-effect="non-scaling-stroke"/>
<line x1="-11.80" y1="-4.12" x2="-23.13" y2="-8.07" stroke="#e8dbb0" stroke-width="0.85" vector-effect="non-scaling-stroke"/>
<line x1="-24.36" y1="-8.50" x2="-26.91" y2="-9.39" stroke="#e8dbb0" stroke-width="0.85" vector-effect="non-scaling-stroke"/>
<line x1="-12.87" y1="-6.68" x2="-19.09" y2="-9.90" stroke="#e8dbb0" stroke-width="0.85" vector-effect="non-scaling-stroke"/>
<line x1="-20.42" y1="-10.59" x2="-23.08" y2="-11.97" stroke="#e8dbb0" stroke-width="0.85" vector-effect="non-scaling-stroke"/>
<line x1="-10.16" y1="-7.28" x2="-19.92" y2="-14.26" stroke="#e8dbb0" stroke-width="0.85" vector-effect="non-scaling-stroke"/>
<line x1="-20.98" y1="-15.02" x2="-23.18" y2="-16.59" stroke="#e8dbb0" stroke-width="0.85" vector-effect="non-scaling-stroke"/>
<line x1="-10.47" y1="-10.03" x2="-15.52" y2="-14.87" stroke="#e8dbb0" stroke-width="0.85" vector-effect="non-scaling-stroke"/>
<line x1="-16.61" y1="-15.91" x2="-18.77" y2="-17.99" stroke="#e8dbb0" stroke-width="0.85" vector-effect="non-scaling-stroke"/>
<line x1="-7.70" y1="-9.84" x2="-15.10" y2="-19.29" stroke="#e8dbb0" stroke-width="0.85" vector-effect="non-scaling-stroke"/>
<line x1="-15.90" y1="-20.32" x2="-17.56" y2="-22.44" stroke="#e8dbb0" stroke-width="0.85" vector-effect="non-scaling-stroke"/>
<line x1="-7.22" y1="-12.57" x2="-10.71" y2="-18.65" stroke="#e8dbb0" stroke-width="0.85" vector-effect="non-scaling-stroke"/>
<line x1="-11.45" y1="-19.95" x2="-12.95" y2="-22.55" stroke="#e8dbb0" stroke-width="0.85" vector-effect="non-scaling-stroke"/>
<line x1="-4.62" y1="-11.62" x2="-9.05" y2="-22.77" stroke="#e8dbb0" stroke-width="0.85" vector-effect="non-scaling-stroke"/>
<line x1="-9.53" y1="-23.97" x2="-10.53" y2="-26.48" stroke="#e8dbb0" stroke-width="0.85" vector-effect="non-scaling-stroke"/>
<line x1="-3.38" y1="-14.10" x2="-5.02" y2="-20.91" stroke="#e8dbb0" stroke-width="0.85" vector-effect="non-scaling-stroke"/>
<line x1="-5.37" y1="-22.36" x2="-6.07" y2="-25.28" stroke="#e8dbb0" stroke-width="0.85" vector-effect="non-scaling-stroke"/>
<line x1="-1.16" y1="-12.45" x2="-2.27" y2="-24.39" stroke="#e8dbb0" stroke-width="0.85" vector-effect="non-scaling-stroke"/>
<line x1="-2.39" y1="-25.69" x2="-2.64" y2="-28.38" stroke="#e8dbb0" stroke-width="0.85" vector-effect="non-scaling-stroke"/>
<line x1="0.72" y1="-14.48" x2="1.07" y2="-21.47" stroke="#e8dbb0" stroke-width="0.85" vector-effect="non-scaling-stroke"/>
<line x1="1.15" y1="-22.97" x2="1.30" y2="-25.97" stroke="#e8dbb0" stroke-width="0.85" vector-effect="non-scaling-stroke"/>
<line x1="2.40" y1="-12.27" x2="4.69" y2="-24.05" stroke="#e8dbb0" stroke-width="0.85" vector-effect="non-scaling-stroke"/>
<line x1="4.94" y1="-25.32" x2="5.46" y2="-27.97" stroke="#e8dbb0" stroke-width="0.85" vector-effect="non-scaling-stroke"/>
<line x1="4.78" y1="-13.69" x2="7.08" y2="-20.30" stroke="#e8dbb0" stroke-width="0.85" vector-effect="non-scaling-stroke"/>
<line x1="7.57" y1="-21.72" x2="8.56" y2="-24.55" stroke="#e8dbb0" stroke-width="0.85" vector-effect="non-scaling-stroke"/>
<line x1="5.75" y1="-11.10" x2="11.28" y2="-21.75" stroke="#e8dbb0" stroke-width="0.85" vector-effect="non-scaling-stroke"/>
<line x1="11.88" y1="-22.90" x2="13.12" y2="-25.30" stroke="#e8dbb0" stroke-width="0.85" vector-effect="non-scaling-stroke"/>
<line x1="8.44" y1="-11.79" x2="12.51" y2="-17.48" stroke="#e8dbb0" stroke-width="0.85" vector-effect="non-scaling-stroke"/>
<line x1="13.39" y1="-18.70" x2="15.13" y2="-21.14" stroke="#e8dbb0" stroke-width="0.85" vector-effect="non-scaling-stroke"/>
<line x1="8.65" y1="-9.03" x2="16.95" y2="-17.69" stroke="#e8dbb0" stroke-width="0.85" vector-effect="non-scaling-stroke"/>
<line x1="17.85" y1="-18.63" x2="19.72" y2="-20.58" stroke="#e8dbb0" stroke-width="0.85" vector-effect="non-scaling-stroke"/>
<line x1="11.42" y1="-8.94" x2="16.93" y2="-13.25" stroke="#e8dbb0" stroke-width="0.85" vector-effect="non-scaling-stroke"/>
<line x1="18.11" y1="-14.17" x2="20.48" y2="-16.02" stroke="#e8dbb0" stroke-width="0.85" vector-effect="non-scaling-stroke"/>
<line x1="10.84" y1="-6.22" x2="21.25" y2="-12.20" stroke="#e8dbb0" stroke-width="0.85" vector-effect="non-scaling-stroke"/>
<line x1="22.37" y1="-12.85" x2="24.72" y2="-14.19" stroke="#e8dbb0" stroke-width="0.85" vector-effect="non-scaling-stroke"/>
<line x1="13.47" y1="-5.36" x2="19.98" y2="-7.94" stroke="#e8dbb0" stroke-width="0.85" vector-effect="non-scaling-stroke"/>
<line x1="21.37" y1="-8.50" x2="24.16" y2="-9.61" stroke="#e8dbb0" stroke-width="0.85" vector-effect="non-scaling-stroke"/>
<line x1="12.15" y1="-2.92" x2="23.82" y2="-5.72" stroke="#e8dbb0" stroke-width="0.85" vector-effect="non-scaling-stroke"/>
<line x1="25.09" y1="-6.02" x2="27.71" y2="-6.65" stroke="#e8dbb0" stroke-width="0.85" vector-effect="non-scaling-stroke"/>
<line x1="14.44" y1="-1.34" x2="21.41" y2="-1.99" stroke="#e8dbb0" stroke-width="0.85" vector-effect="non-scaling-stroke"/>
<line x1="22.90" y1="-2.13" x2="25.89" y2="-2.41" stroke="#e8dbb0" stroke-width="0.85" vector-effect="non-scaling-stroke"/>
<rect x="-2.9" y="-10.35" width="5.8" height="41.5" fill="#c8962f"/>
<rect x="-12.3" y="-2.8" width="24.7" height="5.6" fill="#c8962f"/>
</g>
<text x="455.35" y="165.00" font-size="11.3" fill="#151515" stroke="#151515" stroke-width="0.32" font-weight="normal" font-style="normal" textLength="43.30" lengthAdjust="spacingAndGlyphs" >Catholic</text>
<text x="461.75" y="181.00" font-size="11.3" fill="#151515" stroke="#151515" stroke-width="0.32" font-weight="normal" font-style="normal" textLength="30.50" lengthAdjust="spacingAndGlyphs" >Social</text>
<text x="454.50" y="196.80" font-size="11.3" fill="#151515" stroke="#151515" stroke-width="0.32" font-weight="normal" font-style="normal" textLength="45.80" lengthAdjust="spacingAndGlyphs" >Teaching</text>
<polygon points="533.00,186.00 547.50,186.00 554.50,196.90 526.60,196.90" fill="#cbd1e9" />
<polygon points="642.60,186.00 671.10,186.00 665.00,197.20 648.20,197.20" fill="#cbd1e9" />
<polygon points="567.90,231.70 582.00,231.70 567.00,256.00 560.50,245.00" fill="#cbd1e9" />
<polygon points="624.20,226.50 639.40,250.20 629.00,250.20 619.00,237.50" fill="#cbd1e9" />
<polygon points="630.20,127.40 637.20,137.50 628.00,151.30 615.50,151.30" fill="#cbd1e9" />
<polygon points="567.50,124.70 583.20,97.51 614.60,97.51 630.30,124.70 614.60,151.89 583.20,151.89" fill="#f7e3e3" stroke="#ffffff" stroke-width="0.9"/>
<polygon points="509.20,158.30 524.90,131.11 556.30,131.11 572.00,158.30 556.30,185.49 524.90,185.49" fill="#f7e3e3" stroke="#ffffff" stroke-width="0.9"/>
<polygon points="625.20,158.40 640.90,131.21 672.30,131.21 688.00,158.40 672.30,185.59 640.90,185.59" fill="#f7e3e3" stroke="#ffffff" stroke-width="0.9"/>
<polygon points="568.20,191.30 582.40,163.00 616.20,163.00 630.70,191.30 616.20,219.60 582.40,219.60" fill="#f7e3e3" stroke="#ffffff" stroke-width="0.9"/>
<polygon points="509.20,224.40 524.90,197.21 556.30,197.21 572.00,224.40 556.30,251.59 524.90,251.59" fill="#f7e3e3" stroke="#ffffff" stroke-width="0.9"/>
<polygon points="625.20,224.40 640.90,197.21 672.30,197.21 688.00,224.40 672.30,251.59 640.90,251.59" fill="#f7e3e3" stroke="#ffffff" stroke-width="0.9"/>
<polygon points="567.50,258.30 583.20,231.11 614.60,231.11 630.30,258.30 614.60,285.49 583.20,285.49" fill="#f7e3e3" stroke="#ffffff" stroke-width="0.9"/>
<text x="587.75" y="123.00" font-size="7.0" fill="#7030a0" stroke="#7030a0" stroke-width="0.10" font-weight="normal" font-style="normal" textLength="22.30" lengthAdjust="spacingAndGlyphs" >Human</text>
<text x="588.15" y="130.80" font-size="7.0" fill="#7030a0" stroke="#7030a0" stroke-width="0.10" font-weight="normal" font-style="normal" textLength="21.50" lengthAdjust="spacingAndGlyphs" >Dignity</text>
<text x="520.80" y="160.10" font-size="7.0" fill="#ffc000" stroke="#ffc000" stroke-width="0.10" font-weight="normal" font-style="normal" textLength="39.60" lengthAdjust="spacingAndGlyphs" >Participation</text>
<text x="642.35" y="160.60" font-size="7.0" fill="#f018c8" stroke="#f018c8" stroke-width="0.10" font-weight="normal" font-style="normal" textLength="28.70" lengthAdjust="spacingAndGlyphs" >Solidarity</text>
<text x="579.35" y="193.30" font-size="7.0" fill="#00a650" stroke="#00a650" stroke-width="0.10" font-weight="normal" font-style="normal" textLength="38.30" lengthAdjust="spacingAndGlyphs" >Stewardship</text>
<text x="522.45" y="218.10" font-size="7.0" fill="#f01818" stroke="#f01818" stroke-width="0.10" font-weight="normal" font-style="normal" textLength="36.30" lengthAdjust="spacingAndGlyphs" >Preferential</text>
<text x="524.55" y="226.70" font-size="7.0" fill="#f01818" stroke="#f01818" stroke-width="0.10" font-weight="normal" font-style="normal" textLength="32.10" lengthAdjust="spacingAndGlyphs" >Option for</text>
<text x="527.05" y="235.30" font-size="7.0" fill="#f01818" stroke="#f01818" stroke-width="0.10" font-weight="normal" font-style="normal" textLength="26.70" lengthAdjust="spacingAndGlyphs" >the Poor</text>
<text x="642.95" y="222.50" font-size="7.0" fill="#ed7d31" stroke="#ed7d31" stroke-width="0.10" font-weight="normal" font-style="normal" textLength="27.50" lengthAdjust="spacingAndGlyphs" >Common</text>
<text x="648.55" y="230.80" font-size="7.0" fill="#ed7d31" stroke="#ed7d31" stroke-width="0.10" font-weight="normal" font-style="normal" textLength="16.30" lengthAdjust="spacingAndGlyphs" >Good</text>
<text x="580.85" y="260.20" font-size="7.0" fill="#1f6fc0" stroke="#1f6fc0" stroke-width="0.10" font-weight="normal" font-style="normal" textLength="35.90" lengthAdjust="spacingAndGlyphs" >Subsidiarity</text>
<polygon transform="translate(517.60,273.65) rotate(35.7)" points="-7.50,-5.30 -0.10,-5.30 -0.10,-8.90 7.50,0.00 -0.10,8.90 -0.10,5.30 -7.50,5.30" fill="#abb7df"/>
<polygon transform="translate(538.15,336.60) rotate(108.1)" points="-7.50,-5.30 -0.10,-5.30 -0.10,-8.90 7.50,0.00 -0.10,8.90 -0.10,5.30 -7.50,5.30" fill="#abb7df"/>
<polygon transform="translate(484.20,375.60) rotate(180.0)" points="-7.50,-5.30 -0.10,-5.30 -0.10,-8.90 7.50,0.00 -0.10,8.90 -0.10,5.30 -7.50,5.30" fill="#abb7df"/>
<polygon transform="translate(430.25,336.55) rotate(-108.1)" points="-7.50,-5.30 -0.10,-5.30 -0.10,-8.90 7.50,0.00 -0.10,8.90 -0.10,5.30 -7.50,5.30" fill="#abb7df"/>
<polygon transform="translate(450.90,273.60) rotate(-35.6)" points="-7.50,-5.30 -0.10,-5.30 -0.10,-8.90 7.50,0.00 -0.10,8.90 -0.10,5.30 -7.50,5.30" fill="#abb7df"/>
<circle cx="484.3" cy="249.7" r="26.6" fill="#f8e3e3" stroke="#fcf3f3" stroke-width="0.6"/>
<circle cx="550.9" cy="297.6" r="26.6" fill="#f8e3e3" stroke="#fcf3f3" stroke-width="0.6"/>
<circle cx="525.4" cy="375.6" r="26.6" fill="#f8e3e3" stroke="#fcf3f3" stroke-width="0.6"/>
<circle cx="443" cy="375.6" r="26.6" fill="#f8e3e3" stroke="#fcf3f3" stroke-width="0.6"/>
<circle cx="417.5" cy="297.5" r="26.6" fill="#f8e3e3" stroke="#fcf3f3" stroke-width="0.6"/>
<text x="471.90" y="242.80" font-size="6.9" fill="#be363f" stroke="#be363f" stroke-width="0.12" font-weight="normal" font-style="normal" textLength="25.20" lengthAdjust="spacingAndGlyphs" >Working</text>
<text x="470.40" y="251.00" font-size="6.9" fill="#be363f" stroke="#be363f" stroke-width="0.12" font-weight="normal" font-style="normal" textLength="28.20" lengthAdjust="spacingAndGlyphs" >our socks</text>
<text x="480.25" y="259.20" font-size="6.9" fill="#be363f" stroke="#be363f" stroke-width="0.12" font-weight="normal" font-style="normal" textLength="8.50" lengthAdjust="spacingAndGlyphs" >off</text>
<text x="533.45" y="286.80" font-size="6.9" fill="#be363f" stroke="#be363f" stroke-width="0.12" font-weight="normal" font-style="normal" textLength="34.50" lengthAdjust="spacingAndGlyphs" >Turning our</text>
<text x="533.20" y="295.00" font-size="6.9" fill="#be363f" stroke="#be363f" stroke-width="0.12" font-weight="normal" font-style="normal" textLength="35.00" lengthAdjust="spacingAndGlyphs" >ears on and</text>
<text x="532.95" y="303.20" font-size="6.9" fill="#be363f" stroke="#be363f" stroke-width="0.12" font-weight="normal" font-style="normal" textLength="35.50" lengthAdjust="spacingAndGlyphs" >growing our</text>
<text x="543.20" y="311.40" font-size="6.9" fill="#be363f" stroke="#be363f" stroke-width="0.12" font-weight="normal" font-style="normal" textLength="15.00" lengthAdjust="spacingAndGlyphs" >brain</text>
<text x="517.35" y="369.20" font-size="6.9" fill="#be363f" stroke="#be363f" stroke-width="0.12" font-weight="normal" font-style="normal" textLength="16.50" lengthAdjust="spacingAndGlyphs" >Being</text>
<text x="512.85" y="377.50" font-size="6.9" fill="#be363f" stroke="#be363f" stroke-width="0.12" font-weight="normal" font-style="normal" textLength="25.50" lengthAdjust="spacingAndGlyphs" >problem</text>
<text x="515.35" y="385.80" font-size="6.9" fill="#be363f" stroke="#be363f" stroke-width="0.12" font-weight="normal" font-style="normal" textLength="20.50" lengthAdjust="spacingAndGlyphs" >solvers</text>
<text x="432.25" y="373.60" font-size="6.9" fill="#be363f" stroke="#be363f" stroke-width="0.12" font-weight="normal" font-style="normal" textLength="21.50" lengthAdjust="spacingAndGlyphs" >Try and</text>
<text x="425.50" y="381.90" font-size="6.9" fill="#be363f" stroke="#be363f" stroke-width="0.12" font-weight="normal" font-style="normal" textLength="35.00" lengthAdjust="spacingAndGlyphs" >trying again</text>
<text x="400.10" y="287.20" font-size="6.9" fill="#be363f" stroke="#be363f" stroke-width="0.12" font-weight="normal" font-style="normal" textLength="35.00" lengthAdjust="spacingAndGlyphs" >Being brave</text>
<text x="401.95" y="295.40" font-size="6.9" fill="#be363f" stroke="#be363f" stroke-width="0.12" font-weight="normal" font-style="normal" textLength="31.30" lengthAdjust="spacingAndGlyphs" >and trying</text>
<text x="401.80" y="303.60" font-size="6.9" fill="#be363f" stroke="#be363f" stroke-width="0.12" font-weight="normal" font-style="normal" textLength="31.60" lengthAdjust="spacingAndGlyphs" >something</text>
<text x="411.40" y="311.70" font-size="6.9" fill="#be363f" stroke="#be363f" stroke-width="0.12" font-weight="normal" font-style="normal" textLength="12.40" lengthAdjust="spacingAndGlyphs" >new</text>
<g transform="translate(487.2,299.0) scale(0.57)">
<polygon points="29.77,0.70 18.17,2.03 24.49,4.95 16.69,4.94 24.55,9.71 15.87,7.98 24.53,15.24 12.75,9.62 16.77,15.27 12.12,13.28 15.42,20.43 9.24,14.99 9.74,19.81 5.86,15.50 7.18,26.47 2.66,15.65 2.06,28.97 -0.46,17.76 -2.72,21.93 -3.35,14.94 -8.13,24.79 -7.23,16.50 -12.19,21.87 -9.11,13.24 -16.41,19.62 -11.13,11.03 -18.72,15.42 -14.07,9.58 -23.27,12.94 -15.13,6.72 -23.38,7.98 -16.13,3.95 -26.34,4.04 -16.83,1.08 -23.16,-0.55 -18.39,-2.06 -26.85,-5.43 -17.12,-5.07 -22.61,-8.94 -16.77,-8.43 -25.01,-15.54 -12.81,-9.67 -18.53,-16.87 -11.90,-13.04 -16.72,-22.15 -9.50,-15.42 -11.17,-22.70 -6.25,-16.53 -7.08,-26.09 -2.69,-15.86 -1.87,-26.26 0.46,-17.71 3.48,-28.09 3.65,-16.28 8.24,-25.13 6.19,-14.12 11.67,-20.94 10.07,-14.62 16.37,-19.57 11.43,-11.33 20.69,-17.05 14.72,-10.02 24.51,-13.63 15.51,-6.89 24.95,-8.51 16.97,-4.16 28.85,-4.42 17.52,-1.13" fill="#dc3a1a" />
<polygon points="25.05,5.18 13.42,4.32 17.74,7.91 14.06,8.21 19.03,14.13 11.43,10.65 13.35,15.59 8.55,12.64 10.29,19.80 5.35,14.07 4.67,18.58 1.86,14.42 0.21,20.67 -1.65,15.28 -5.53,24.10 -5.41,15.16 -9.69,19.61 -8.03,12.41 -12.86,15.63 -9.88,9.57 -14.89,11.51 -12.95,7.90 -19.04,8.93 -14.24,4.88 -24.55,5.57 -15.46,1.80 -22.92,0.21 -14.63,-1.43 -18.73,-3.88 -14.18,-4.57 -18.07,-8.06 -13.23,-7.73 -20.48,-15.20 -11.44,-10.66 -12.80,-14.94 -9.01,-13.33 -10.88,-20.94 -5.50,-14.48 -5.88,-23.42 -1.98,-15.36 -0.24,-23.30 1.54,-14.23 5.51,-24.01 5.42,-15.19 8.55,-17.31 8.52,-13.16 14.78,-17.97 10.77,-10.44 17.62,-13.62 13.02,-7.94 22.84,-10.71 14.58,-5.00 24.14,-5.47 14.95,-1.74 25.18,-0.24 16.61,1.62" fill="#f0641a" />
<polygon points="19.23,1.14 12.87,2.39 18.60,5.94 12.47,5.79 13.66,8.61 9.08,7.51 13.91,14.98 7.13,10.07 7.75,14.81 4.86,13.47 3.73,17.53 0.99,13.75 -1.17,17.88 -2.67,12.98 -5.38,15.22 -6.11,11.87 -11.73,16.79 -8.91,9.72 -15.33,12.85 -11.63,7.43 -14.67,6.93 -13.50,4.40 -19.16,3.68 -12.87,0.84 -16.15,-0.96 -14.33,-2.66 -17.86,-5.70 -12.72,-5.91 -17.72,-11.17 -10.66,-8.83 -14.24,-15.33 -7.36,-10.39 -9.26,-17.70 -4.33,-11.98 -4.28,-20.13 -1.00,-13.87 1.03,-15.72 2.38,-11.57 5.51,-15.58 6.55,-12.71 10.29,-14.74 9.12,-9.94 13.35,-11.19 11.22,-7.17 16.40,-7.74 12.35,-4.02 19.12,-3.67 13.72,-0.90" fill="#f89a1b" />
<ellipse cx="0" cy="0" rx="13" ry="12" fill="#fbb52a"/>
<circle cx="3.86" cy="-27.83" r="3.36" fill="#e8851a"/>
<circle cx="1.27" cy="-25.62" r="3.36" fill="#e8851a"/>
<circle cx="-1.07" cy="-27.18" r="3.36" fill="#e8851a"/>
<circle cx="-0.12" cy="-30.36" r="3.36" fill="#e8851a"/>
<circle cx="2.94" cy="-30.19" r="3.36" fill="#e8851a"/>
<circle cx="3.86" cy="-27.83" r="2.91" fill="#fbc02d"/>
<circle cx="1.27" cy="-25.62" r="2.91" fill="#fbc02d"/>
<circle cx="-1.07" cy="-27.18" r="2.91" fill="#fbc02d"/>
<circle cx="-0.12" cy="-30.36" r="2.91" fill="#fbc02d"/>
<circle cx="2.94" cy="-30.19" r="2.91" fill="#fbc02d"/>
<circle cx="1.30" cy="-28.20" r="2.82" fill="#fdd835"/>
<circle cx="2.71" cy="-26.55" r="1.65" fill="#f6a21c"/>
<circle cx="0.36" cy="-29.38" r="1.32" fill="#fff59d"/>
<circle cx="-14.90" cy="-19.26" r="3.18" fill="#e8851a"/>
<circle cx="-16.70" cy="-17.26" r="3.18" fill="#e8851a"/>
<circle cx="-19.54" cy="-18.68" r="3.18" fill="#e8851a"/>
<circle cx="-19.12" cy="-21.20" r="3.18" fill="#e8851a"/>
<circle cx="-16.46" cy="-21.87" r="3.18" fill="#e8851a"/>
<circle cx="-14.90" cy="-19.26" r="2.73" fill="#fbc02d"/>
<circle cx="-16.70" cy="-17.26" r="2.73" fill="#fbc02d"/>
<circle cx="-19.54" cy="-18.68" r="2.73" fill="#fbc02d"/>
<circle cx="-19.12" cy="-21.20" r="2.73" fill="#fbc02d"/>
<circle cx="-16.46" cy="-21.87" r="2.73" fill="#fbc02d"/>
<circle cx="-17.30" cy="-19.60" r="2.64" fill="#fdd835"/>
<circle cx="-15.98" cy="-18.06" r="1.54" fill="#f6a21c"/>
<circle cx="-18.18" cy="-20.70" r="1.23" fill="#fff59d"/>
<circle cx="18.54" cy="-14.28" r="2.68" fill="#e8851a"/>
<circle cx="16.44" cy="-13.04" r="2.68" fill="#e8851a"/>
<circle cx="14.74" cy="-14.70" r="2.68" fill="#e8851a"/>
<circle cx="15.97" cy="-16.84" r="2.68" fill="#e8851a"/>
<circle cx="18.06" cy="-16.44" r="2.68" fill="#e8851a"/>
<circle cx="18.54" cy="-14.28" r="2.23" fill="#fbc02d"/>
<circle cx="16.44" cy="-13.04" r="2.23" fill="#fbc02d"/>
<circle cx="14.74" cy="-14.70" r="2.23" fill="#fbc02d"/>
<circle cx="15.97" cy="-16.84" r="2.23" fill="#fbc02d"/>
<circle cx="18.06" cy="-16.44" r="2.23" fill="#fbc02d"/>
<circle cx="16.70" cy="-15.00" r="2.16" fill="#fdd835"/>
<circle cx="17.78" cy="-13.74" r="1.26" fill="#f6a21c"/>
<circle cx="15.98" cy="-15.90" r="1.01" fill="#fff59d"/>
<circle cx="-25.04" cy="-0.69" r="2.68" fill="#e8851a"/>
<circle cx="-27.15" cy="0.35" r="2.68" fill="#e8851a"/>
<circle cx="-28.67" cy="-0.94" r="2.68" fill="#e8851a"/>
<circle cx="-28.20" cy="-3.00" r="2.68" fill="#e8851a"/>
<circle cx="-26.19" cy="-3.48" r="2.68" fill="#e8851a"/>
<circle cx="-25.04" cy="-0.69" r="2.23" fill="#fbc02d"/>
<circle cx="-27.15" cy="0.35" r="2.23" fill="#fbc02d"/>
<circle cx="-28.67" cy="-0.94" r="2.23" fill="#fbc02d"/>
<circle cx="-28.20" cy="-3.00" r="2.23" fill="#fbc02d"/>
<circle cx="-26.19" cy="-3.48" r="2.23" fill="#fbc02d"/>
<circle cx="-26.80" cy="-1.60" r="2.16" fill="#fdd835"/>
<circle cx="-25.72" cy="-0.34" r="1.26" fill="#f6a21c"/>
<circle cx="-27.52" cy="-2.50" r="1.01" fill="#fff59d"/>
<circle cx="27.67" cy="10.45" r="3.05" fill="#e8851a"/>
<circle cx="25.91" cy="12.25" r="3.05" fill="#e8851a"/>
<circle cx="23.15" cy="10.54" r="3.05" fill="#e8851a"/>
<circle cx="23.59" cy="8.56" r="3.05" fill="#e8851a"/>
<circle cx="26.77" cy="8.14" r="3.05" fill="#e8851a"/>
<circle cx="27.67" cy="10.45" r="2.60" fill="#fbc02d"/>
<circle cx="25.91" cy="12.25" r="2.60" fill="#fbc02d"/>
<circle cx="23.15" cy="10.54" r="2.60" fill="#fbc02d"/>
<circle cx="23.59" cy="8.56" r="2.60" fill="#fbc02d"/>
<circle cx="26.77" cy="8.14" r="2.60" fill="#fbc02d"/>
<circle cx="25.40" cy="10.00" r="2.52" fill="#fdd835"/>
<circle cx="26.66" cy="11.47" r="1.47" fill="#f6a21c"/>
<circle cx="24.56" cy="8.95" r="1.18" fill="#fff59d"/>
<circle cx="-12.68" cy="19.68" r="2.74" fill="#e8851a"/>
<circle cx="-15.23" cy="21.36" r="2.74" fill="#e8851a"/>
<circle cx="-16.43" cy="20.47" r="2.74" fill="#e8851a"/>
<circle cx="-15.71" cy="17.63" r="2.74" fill="#e8851a"/>
<circle cx="-13.97" cy="17.50" r="2.74" fill="#e8851a"/>
<circle cx="-12.68" cy="19.68" r="2.29" fill="#fbc02d"/>
<circle cx="-15.23" cy="21.36" r="2.29" fill="#fbc02d"/>
<circle cx="-16.43" cy="20.47" r="2.29" fill="#fbc02d"/>
<circle cx="-15.71" cy="17.63" r="2.29" fill="#fbc02d"/>
<circle cx="-13.97" cy="17.50" r="2.29" fill="#fbc02d"/>
<circle cx="-14.70" cy="19.40" r="2.22" fill="#fdd835"/>
<circle cx="-13.59" cy="20.70" r="1.29" fill="#f6a21c"/>
<circle cx="-15.44" cy="18.47" r="1.04" fill="#fff59d"/>
<circle cx="10.97" cy="21.55" r="3.12" fill="#e8851a"/>
<circle cx="8.91" cy="23.26" r="3.12" fill="#e8851a"/>
<circle cx="6.68" cy="22.13" r="3.12" fill="#e8851a"/>
<circle cx="7.73" cy="18.74" r="3.12" fill="#e8851a"/>
<circle cx="9.44" cy="18.65" r="3.12" fill="#e8851a"/>
<circle cx="10.97" cy="21.55" r="2.67" fill="#fbc02d"/>
<circle cx="8.91" cy="23.26" r="2.67" fill="#fbc02d"/>
<circle cx="6.68" cy="22.13" r="2.67" fill="#fbc02d"/>
<circle cx="7.73" cy="18.74" r="2.67" fill="#fbc02d"/>
<circle cx="9.44" cy="18.65" r="2.67" fill="#fbc02d"/>
<circle cx="8.70" cy="20.90" r="2.58" fill="#fdd835"/>
<circle cx="9.99" cy="22.40" r="1.50" fill="#f6a21c"/>
<circle cx="7.84" cy="19.82" r="1.20" fill="#fff59d"/>
<circle cx="-12" cy="1" r="6.6" fill="#ef8f12"/>
<circle cx="-5" cy="-4" r="7.6" fill="#ef8f12"/>
<circle cx="3" cy="-5" r="7.1" fill="#ef8f12"/>
<circle cx="10" cy="-2" r="6.6" fill="#ef8f12"/>
<circle cx="14" cy="2" r="5.6" fill="#ef8f12"/>
<circle cx="-4" cy="4.5" r="7.1" fill="#ef8f12"/>
<circle cx="5" cy="5" r="7.1" fill="#ef8f12"/>
<circle cx="-10" cy="5" r="5.6" fill="#ef8f12"/>
<circle cx="-12" cy="1" r="6" fill="#ffd83a"/>
<circle cx="-5" cy="-4" r="7" fill="#ffd83a"/>
<circle cx="3" cy="-5" r="6.5" fill="#ffd83a"/>
<circle cx="10" cy="-2" r="6" fill="#ffd83a"/>
<circle cx="14" cy="2" r="5" fill="#ffd83a"/>
<circle cx="-4" cy="4.5" r="6.5" fill="#ffd83a"/>
<circle cx="5" cy="5" r="6.5" fill="#ffd83a"/>
<circle cx="-10" cy="5" r="5" fill="#ffd83a"/>
<circle cx="-6" cy="-5" r="4.8" fill="#fff8c4"/>
<circle cx="3" cy="-6.5" r="4.6" fill="#fff8c4"/>
<circle cx="10" cy="-3.5" r="3.8" fill="#fff8c4"/>
<circle cx="-11" cy="0" r="3.2" fill="#fff8c4"/>
<g transform="rotate(-12) skewX(-8)"><text x="-22.8" y="4.6" font-size="9.4" font-weight="bold" fill="#48bbf0" stroke="#163a63" stroke-width="1.05" paint-order="stroke" stroke-linejoin="round" textLength="46" lengthAdjust="spacingAndGlyphs">AWESOME!</text></g>
</g>
<text x="463.60" y="327.30" font-size="9.3" fill="#151515" stroke="#151515" stroke-width="0.26" font-weight="normal" font-style="normal" textLength="41.60" lengthAdjust="spacingAndGlyphs" >Awesome</text>
<text x="450.60" y="339.60" font-size="9.3" fill="#151515" stroke="#151515" stroke-width="0.26" font-weight="normal" font-style="normal" textLength="67.20" lengthAdjust="spacingAndGlyphs" >Learning Values</text>
<g transform="translate(604.2,357.6) scale(0.635) translate(-211,-335)">
<g opacity="0.82">
<circle cx="212.9" cy="295.0" r="2.2" fill="#9e9e9e"/>
<rect x="205.0" y="272.1" width="3.8" height="3.8" rx="0.7" fill="#f4511e" transform="rotate(-27 206.9 274.0)"/>
<circle cx="225.1" cy="303.6" r="1.8" fill="#f4511e"/>
<rect x="184.6" y="296.4" width="3.5" height="3.5" rx="0.7" fill="#ec407a" transform="rotate(18 186.4 298.1)"/>
<circle cx="209.1" cy="308.0" r="1.7" fill="#9e9e9e"/>
<circle cx="192.6" cy="302.8" r="1.9" fill="#43a047"/>
<rect x="191.7" y="287.0" width="3.6" height="3.6" rx="0.7" fill="#ec407a" transform="rotate(-24 193.5 288.8)"/>
<circle cx="225.2" cy="309.8" r="2.0" fill="#ec407a"/>
<circle cx="233.8" cy="303.8" r="2.4" fill="#8e24aa"/>
<circle cx="178.6" cy="294.6" r="1.8" fill="#e53935"/>
<circle cx="235.5" cy="296.1" r="2.4" fill="#fb8c00"/>
<circle cx="199.1" cy="283.1" r="2.0" fill="#fb8c00"/>
<circle cx="223.3" cy="296.9" r="1.7" fill="#00acc1"/>
<rect x="207.1" y="280.0" width="3.6" height="3.6" rx="0.7" fill="#9e9e9e" transform="rotate(-24 208.9 281.8)"/>
<circle cx="232.4" cy="311.8" r="1.9" fill="#9e9e9e"/>
<rect x="179.1" y="304.5" width="5.7" height="2.6" rx="0.6" fill="#1e88e5" transform="rotate(-8 181.9 305.8)"/>
<circle cx="196.6" cy="308.8" r="2.0" fill="#fb8c00"/>
<circle cx="205.1" cy="296.4" r="1.9" fill="#29b6f6"/>
<rect x="215.1" y="310.0" width="3.6" height="3.6" rx="0.7" fill="#fb8c00" transform="rotate(6 216.9 311.8)"/>
<rect x="229.9" y="290.5" width="4.2" height="4.2" rx="0.7" fill="#e53935" transform="rotate(-13 232.0 292.6)"/>
<rect x="194.1" y="291.9" width="5.5" height="2.6" rx="0.6" fill="#8e24aa" transform="rotate(31 196.8 293.2)"/>
<rect x="217.0" y="291.9" width="4.5" height="2.1" rx="0.6" fill="#00acc1" transform="rotate(-15 219.2 293.0)"/>
<rect x="190.4" y="311.9" width="4.7" height="2.2" rx="0.6" fill="#e53935" transform="rotate(42 192.8 313.0)"/>
<circle cx="215.6" cy="275.2" r="1.9" fill="#fb8c00"/>
<rect x="178.9" y="309.5" width="3.8" height="3.8" rx="0.7" fill="#8e24aa" transform="rotate(29 180.8 311.4)"/>
<rect x="191.6" y="317.4" width="4.4" height="4.4" rx="0.7" fill="#00acc1" transform="rotate(19 193.8 319.6)"/>
<circle cx="213.6" cy="303.8" r="1.9" fill="#1e88e5"/>
<rect x="182.4" y="282.8" width="5.7" height="2.6" rx="0.6" fill="#8e24aa" transform="rotate(-33 185.2 284.1)"/>
<rect x="215.1" y="298.3" width="4.7" height="4.7" rx="0.7" fill="#7cb342" transform="rotate(-11 217.5 300.6)"/>
<rect x="197.4" y="311.4" width="3.8" height="3.8" rx="0.7" fill="#e53935" transform="rotate(-17 199.3 313.2)"/>
<rect x="215.0" y="279.8" width="3.3" height="3.3" rx="0.7" fill="#1e88e5" transform="rotate(-11 216.7 281.4)"/>
<rect x="184.5" y="314.1" width="3.2" height="3.2" rx="0.7" fill="#43a047" transform="rotate(24 186.1 315.7)"/>
<rect x="199.6" y="288.8" width="4.8" height="4.8" rx="0.7" fill="#29b6f6" transform="rotate(22 202.0 291.2)"/>
<rect x="200.4" y="307.0" width="3.4" height="3.4" rx="0.7" fill="#f4511e" transform="rotate(-29 202.1 308.7)"/>
<circle cx="225.1" cy="289.2" r="2.0" fill="#29b6f6"/>
<rect x="228.9" y="281.1" width="4.3" height="4.3" rx="0.7" fill="#29b6f6" transform="rotate(9 231.0 283.3)"/>
<rect x="198.1" y="273.7" width="3.3" height="3.3" rx="0.7" fill="#43a047" transform="rotate(-29 199.7 275.4)"/>
<circle cx="175.5" cy="298.8" r="2.1" fill="#ec407a"/>
<rect x="223.1" y="279.2" width="5.6" height="2.6" rx="0.6" fill="#fdd835" transform="rotate(-47 225.9 280.4)"/>
<rect x="215.4" y="305.3" width="5.8" height="2.7" rx="0.6" fill="#43a047" transform="rotate(41 218.3 306.7)"/>
<circle cx="234.4" cy="286.8" r="2.2" fill="#29b6f6"/>
<circle cx="200.1" cy="322.3" r="1.8" fill="#29b6f6"/>
<rect x="206.8" y="298.1" width="4.2" height="4.2" rx="0.7" fill="#43a047" transform="rotate(7 208.9 300.2)"/>
<rect x="188.9" y="276.1" width="3.6" height="3.6" rx="0.7" fill="#f4511e" transform="rotate(27 190.7 277.9)"/>
<circle cx="222.1" cy="276.4" r="1.7" fill="#fdd835"/>
<rect x="221.6" y="312.9" width="4.0" height="4.0" rx="0.7" fill="#00acc1" transform="rotate(21 223.6 314.9)"/>
<rect x="184.9" y="308.5" width="6.0" height="2.8" rx="0.6" fill="#8e24aa" transform="rotate(-46 187.8 309.9)"/>
<circle cx="202.4" cy="302.7" r="2.3" fill="#1e88e5"/>
<rect x="207.5" y="285.2" width="3.5" height="3.5" rx="0.7" fill="#7cb342" transform="rotate(7 209.3 286.9)"/>
<circle cx="229.5" cy="298.5" r="1.8" fill="#29b6f6"/>
<rect x="177.1" y="283.5" width="5.6" height="2.6" rx="0.6" fill="#29b6f6" transform="rotate(-18 179.9 284.8)"/>
<rect x="184.6" y="303.7" width="6.0" height="2.8" rx="0.6" fill="#1e88e5" transform="rotate(-45 187.6 305.1)"/>
<circle cx="191.9" cy="297.7" r="2.2" fill="#ec407a"/>
<circle cx="184.5" cy="289.1" r="1.9" fill="#f4511e"/>
<circle cx="214.3" cy="289.9" r="2.2" fill="#e53935"/>
<circle cx="219.6" cy="286.6" r="2.0" fill="#e53935"/>
<rect x="195.3" y="301.1" width="4.2" height="4.2" rx="0.7" fill="#8e24aa" transform="rotate(13 197.3 303.2)"/>
<rect x="187.2" y="290.6" width="3.4" height="3.4" rx="0.7" fill="#ec407a" transform="rotate(-24 188.9 292.3)"/>
<rect x="204.7" y="310.7" width="3.9" height="3.9" rx="0.7" fill="#e53935" transform="rotate(-17 206.7 312.6)"/>
<rect x="178.3" y="297.6" width="4.5" height="4.5" rx="0.7" fill="#1e88e5" transform="rotate(-7 180.5 299.9)"/>
<circle cx="204.5" cy="279.9" r="2.2" fill="#29b6f6"/>
<circle cx="197.5" cy="298.1" r="1.6" fill="#8e24aa"/>
<circle cx="195.8" cy="279.1" r="1.8" fill="#fb8c00"/>
<circle cx="201.5" cy="317.6" r="2.0" fill="#ec407a"/>
<circle cx="228.8" cy="306.6" r="2.4" fill="#29b6f6"/>
<circle cx="219.0" cy="318.5" r="2.0" fill="#9e9e9e"/>
<circle cx="191.7" cy="283.9" r="2.3" fill="#fdd835"/>
<circle cx="228.8" cy="315.2" r="2.3" fill="#00acc1"/>
<circle cx="208.2" cy="292.5" r="2.2" fill="#43a047"/>
<rect x="201.4" y="283.7" width="3.7" height="3.7" rx="0.7" fill="#43a047" transform="rotate(17 203.3 285.5)"/>
<rect x="175.3" y="302.9" width="3.9" height="3.9" rx="0.7" fill="#29b6f6" transform="rotate(2 177.3 304.8)"/>
<rect x="174.7" y="287.9" width="4.9" height="2.3" rx="0.6" fill="#7cb342" transform="rotate(-29 177.1 289.0)"/>
</g>
<path d="M206.6 335 Q210.2 327 209.6 317 Q209 309 204 303.5 L206 302 Q211.5 307 212.2 316 Q212.8 327 215.2 335 Z" fill="#6a2c91"/>
<path d="M205 303.2 Q202.8 301.5 202.28 303.43" fill="none" stroke="#6a2c91" stroke-width="2.0" stroke-linecap="round" stroke-linejoin="round"/>
<path d="M202.28 303.43 L200.79 302.35 L199.49 301.07 L198.40 299.63 L197.54 298.07 L196.92 296.41 L196.56 294.69 L196.45 292.96 L196.60 291.24 L196.99 289.59 L197.62 288.03 L198.46 286.59 L199.49 285.30 L200.69 284.19 L202.02 283.28 L203.46 282.58 L204.97 282.10 L206.51 281.86 L208.05 281.84 L209.57 282.05 L211.02 282.48 L212.37 283.10 L213.61 283.91 L214.70 284.88 L215.62 285.98 L216.36 287.20 L216.91 288.49 L217.26 289.84 L217.40 291.20 L217.35 292.56 L217.09 293.87 L216.66 295.11 L216.05 296.26 L215.29 297.30 L214.39 298.20 L213.39 298.95 L212.31 299.53 L211.16 299.94 L209.99 300.18 L208.81 300.24 L207.65 300.12 L206.54 299.84 L205.50 299.41 L204.55 298.83 L203.71 298.13 L202.99 297.33 L202.41 296.45 L201.97 295.50 L201.68 294.52 L201.54 293.52 L201.55 292.53 L201.71 291.57 L202.00 290.66 L202.42 289.82 L202.94 289.06 L203.56 288.41 L204.26 287.86 L205.01 287.43 L205.81 287.13 L206.62 286.95 L207.44 286.89 L208.24 286.96 L209.00 287.14 L209.71 287.43 L210.35 287.81 L210.92 288.27 L211.40 288.80 L211.79 289.38 L212.07 289.99 L212.26 290.63 L212.34 291.27 L212.33 291.89 L212.23 292.50 L212.04 293.06 L211.77 293.57 L211.44 294.03 L211.06 294.41 L210.64 294.72 L210.19 294.96 L209.72 295.11 L209.25 295.19 L208.80 295.20 L208.36 295.14 L207.95 295.01 L207.59 294.83 L207.27 294.60 L207.00 294.34 L206.79 294.05 L206.64 293.75 L206.54 293.44 L206.50 293.13" fill="none" stroke="#6a2c91" stroke-width="2.1" stroke-linecap="round" stroke-linejoin="round"/>
<path d="M209.5 313.5 Q200 311 192.44 300.45" fill="none" stroke="#6a2c91" stroke-width="1.4" stroke-linecap="round" stroke-linejoin="round"/>
<path d="M192.44 300.45 L191.91 299.52 L191.24 298.72 L190.45 298.06 L189.56 297.56 L188.62 297.23 L187.64 297.07 L186.67 297.10 L185.73 297.29 L184.86 297.64 L184.07 298.13 L183.40 298.75 L182.85 299.46 L182.45 300.25 L182.21 301.08 L182.11 301.92 L182.17 302.76 L182.37 303.56 L182.70 304.29 L183.16 304.94 L183.71 305.49 L184.33 305.92 L185.02 306.22 L185.73 306.40 L186.44 306.44 L187.14 306.36 L187.79 306.16 L188.39 305.85 L188.91 305.44 L189.33 304.96 L189.66 304.43 L189.88 303.86 L189.99 303.27 L189.99 302.69 L189.89 302.13 L189.69 301.62 L189.41 301.16 L189.07 300.77 L188.67 300.45 L188.23 300.23 L187.77 300.09 L187.31 300.04 L186.87 300.07 L186.45 300.18 L186.07 300.36 L185.75 300.60 L185.48 300.88 L185.28 301.20 L185.14 301.53 L185.08 301.87 L185.08 302.20 L185.14 302.51 L185.25 302.79 L185.40 303.03 L185.59 303.22 L185.80 303.37 L186.02 303.47 L186.25 303.51 L186.46 303.52 L186.66 303.47 L186.83 303.40" fill="none" stroke="#6a2c91" stroke-width="1.6" stroke-linecap="round" stroke-linejoin="round"/>
<path d="M211.3 313 Q214.5 304 220.56 296.55" fill="none" stroke="#6a2c91" stroke-width="1.4" stroke-linecap="round" stroke-linejoin="round"/>
<path d="M220.56 296.55 L221.09 295.62 L221.76 294.82 L222.55 294.16 L223.44 293.66 L224.38 293.33 L225.36 293.17 L226.33 293.20 L227.27 293.39 L228.14 293.74 L228.93 294.23 L229.60 294.85 L230.15 295.56 L230.55 296.35 L230.79 297.18 L230.89 298.02 L230.83 298.86 L230.63 299.66 L230.30 300.39 L229.84 301.04 L229.29 301.59 L228.67 302.02 L227.98 302.32 L227.27 302.50 L226.56 302.54 L225.86 302.46 L225.21 302.26 L224.61 301.95 L224.09 301.54 L223.67 301.06 L223.34 300.53 L223.12 299.96 L223.01 299.37 L223.01 298.79 L223.11 298.23 L223.31 297.72 L223.59 297.26 L223.93 296.87 L224.33 296.55 L224.77 296.33 L225.23 296.19 L225.69 296.14 L226.13 296.17 L226.55 296.28 L226.93 296.46 L227.25 296.70 L227.52 296.98 L227.72 297.30 L227.86 297.63 L227.92 297.97 L227.92 298.30 L227.86 298.61 L227.75 298.89 L227.60 299.13 L227.41 299.32 L227.20 299.47 L226.98 299.57 L226.75 299.61 L226.54 299.62 L226.34 299.57 L226.17 299.50" fill="none" stroke="#6a2c91" stroke-width="1.6" stroke-linecap="round" stroke-linejoin="round"/>
<path d="M193.06 281.87 L193.40 281.30 L193.63 280.68 L193.76 280.04 L193.77 279.41 L193.68 278.78 L193.49 278.19 L193.20 277.65 L192.84 277.18 L192.41 276.77 L191.92 276.45 L191.39 276.22 L190.85 276.09 L190.30 276.05 L189.75 276.10 L189.24 276.24 L188.76 276.47 L188.34 276.76 L187.98 277.11 L187.68 277.52 L187.47 277.95 L187.33 278.41 L187.28 278.88 L187.30 279.34 L187.40 279.78 L187.57 280.18 L187.80 280.55 L188.09 280.86 L188.41 281.12 L188.77 281.31 L189.14 281.43 L189.52 281.49 L189.89 281.48 L190.25 281.42 L190.59 281.29 L190.88 281.11 L191.14 280.89 L191.35 280.64 L191.51 280.36 L191.61 280.07 L191.67 279.78 L191.67 279.49 L191.62 279.21 L191.52 278.95 L191.39 278.73 L191.23 278.53 L191.04 278.37 L190.84 278.26 L190.62 278.18 L190.41 278.15 L190.20 278.15 L190.01 278.19 L189.83 278.26 L189.68 278.36 L189.55 278.47 L189.46 278.60 L189.39 278.74 L189.35 278.88 L189.34 279.02 L189.36 279.15 L189.40 279.26" fill="none" stroke="#6a2c91" stroke-width="1.1" stroke-linecap="round" stroke-linejoin="round"/>
<path d="M193.06 281.87 Q195 284 196.5 287.5" fill="none" stroke="#6a2c91" stroke-width="1.1" stroke-linecap="round" stroke-linejoin="round"/>
<path d="M219.54 284.17 L219.20 283.60 L218.97 282.98 L218.84 282.34 L218.83 281.71 L218.92 281.08 L219.11 280.49 L219.40 279.95 L219.76 279.48 L220.19 279.07 L220.68 278.75 L221.21 278.52 L221.75 278.39 L222.30 278.35 L222.85 278.40 L223.36 278.54 L223.84 278.77 L224.26 279.06 L224.62 279.41 L224.92 279.82 L225.13 280.25 L225.27 280.71 L225.32 281.18 L225.30 281.64 L225.20 282.08 L225.03 282.48 L224.80 282.85 L224.51 283.16 L224.19 283.42 L223.83 283.61 L223.46 283.73 L223.08 283.79 L222.71 283.78 L222.35 283.72 L222.01 283.59 L221.72 283.41 L221.46 283.19 L221.25 282.94 L221.09 282.66 L220.99 282.37 L220.93 282.08 L220.93 281.79 L220.98 281.51 L221.08 281.25 L221.21 281.03 L221.37 280.83 L221.56 280.67 L221.76 280.56 L221.98 280.48 L222.19 280.45 L222.40 280.45 L222.59 280.49 L222.77 280.56 L222.92 280.66 L223.05 280.77 L223.14 280.90 L223.21 281.04 L223.25 281.18 L223.26 281.32 L223.24 281.45 L223.20 281.56" fill="none" stroke="#6a2c91" stroke-width="1.1" stroke-linecap="round" stroke-linejoin="round"/>
<path d="M219.54 284.17 Q218 285 216.8 285.8" fill="none" stroke="#6a2c91" stroke-width="1.1" stroke-linecap="round" stroke-linejoin="round"/>
<path d="M222.54 315.40 L222.32 314.81 L222.20 314.21 L222.18 313.60 L222.25 313.01 L222.41 312.44 L222.66 311.91 L222.98 311.44 L223.36 311.03 L223.80 310.69 L224.28 310.43 L224.79 310.25 L225.31 310.15 L225.83 310.14 L226.34 310.21 L226.82 310.36 L227.26 310.57 L227.65 310.85 L227.99 311.19 L228.27 311.56 L228.48 311.97 L228.62 312.39 L228.69 312.83 L228.69 313.26 L228.63 313.68 L228.50 314.07 L228.31 314.43 L228.07 314.75 L227.79 315.01 L227.48 315.23 L227.15 315.39 L226.80 315.49 L226.45 315.54 L226.11 315.53 L225.78 315.46 L225.48 315.35 L225.20 315.19 L224.96 315.00 L224.76 314.77 L224.61 314.53 L224.50 314.27 L224.43 314.00 L224.42 313.74 L224.44 313.48 L224.50 313.24 L224.60 313.02 L224.73 312.83 L224.88 312.67 L225.05 312.54 L225.23 312.45 L225.42 312.39 L225.60 312.36 L225.78 312.37 L225.95 312.40 L226.10 312.47 L226.23 312.55 L226.34 312.64 L226.42 312.75 L226.48 312.87 L226.51 312.99 L226.52 313.10" fill="none" stroke="#6a2c91" stroke-width="1.0" stroke-linecap="round" stroke-linejoin="round"/>
<path d="M212 318.5 Q218 318.5 222.54 315.40" fill="none" stroke="#6a2c91" stroke-width="1.1" stroke-linecap="round" stroke-linejoin="round"/>
<path d="M186.42 314.63 L186.50 314.19 L186.51 313.76 L186.46 313.34 L186.35 312.93 L186.18 312.56 L185.97 312.21 L185.71 311.91 L185.41 311.65 L185.08 311.44 L184.73 311.29 L184.37 311.19 L184.00 311.14 L183.63 311.15 L183.28 311.22 L182.95 311.33 L182.64 311.49 L182.37 311.69 L182.13 311.92 L181.93 312.18 L181.78 312.46 L181.67 312.76 L181.61 313.06 L181.59 313.36 L181.62 313.66 L181.69 313.94 L181.80 314.20 L181.95 314.44 L182.12 314.64 L182.32 314.82 L182.54 314.96 L182.77 315.06 L183.01 315.13 L183.25 315.16 L183.48 315.15 L183.71 315.11 L183.92 315.04 L184.11 314.93 L184.28 314.81 L184.42 314.66 L184.54 314.50 L184.62 314.33 L184.68 314.16 L184.71 313.98 L184.71 313.80 L184.69 313.64 L184.64 313.48 L184.57 313.34 L184.48 313.22 L184.38 313.12 L184.27 313.04 L184.15 312.98 L184.03 312.94 L183.91 312.92 L183.80 312.92 L183.69 312.94 L183.60 312.98 L183.51 313.03 L183.44 313.09 L183.39 313.16 L183.35 313.23" fill="none" stroke="#6a2c91" stroke-width="0.9" stroke-linecap="round" stroke-linejoin="round"/>
<path d="M186.42 314.63 Q190 314 193 309" fill="none" stroke="#6a2c91" stroke-width="0.9" stroke-linecap="round" stroke-linejoin="round"/>
</g>
<text x="621.60" y="332.20" font-size="9.3" fill="#151515" stroke="#151515" stroke-width="0.26" font-weight="normal" font-style="normal" textLength="47.80" lengthAdjust="spacingAndGlyphs" >Curriculum</text>
<text x="621.20" y="344.60" font-size="9.3" fill="#151515" stroke="#151515" stroke-width="0.26" font-weight="normal" font-style="normal" textLength="49.10" lengthAdjust="spacingAndGlyphs" >Enrichment</text>
<polygon points="626.80,348.50 653.12,374.82 639.96,374.82 639.96,393.84 658.97,393.84 658.97,380.68 685.30,407.00 658.97,433.32 658.97,420.16 639.96,420.16 639.96,439.18 653.12,439.18 626.80,465.50 600.47,439.18 613.64,439.18 613.64,420.16 594.62,420.16 594.62,433.32 568.30,407.00 594.62,380.68 594.62,393.84 613.64,393.84 613.64,374.82 600.47,374.82" fill="#ced5ec" />
<rect x="580.0" y="359.8" width="45.1" height="45.6" rx="6" fill="#f8e1e1" stroke="#fdf4f4" stroke-width="0.8"/>
<rect x="629.0" y="359.8" width="45.6" height="45.6" rx="6" fill="#f8e1e1" stroke="#fdf4f4" stroke-width="0.8"/>
<rect x="580.0" y="409.3" width="45.2" height="44.8" rx="6" fill="#f8e1e1" stroke="#fdf4f4" stroke-width="0.8"/>
<rect x="629.0" y="407.1" width="45.6" height="44.8" rx="6" fill="#f8e1e1" stroke="#fdf4f4" stroke-width="0.8"/>
<text x="585.90" y="380.10" font-size="9.6" fill="#bb1720" stroke="#bb1720" stroke-width="0.27" font-weight="normal" font-style="normal" textLength="33.20" lengthAdjust="spacingAndGlyphs" >Outdoor</text>
<text x="585.80" y="390.80" font-size="9.6" fill="#bb1720" stroke="#bb1720" stroke-width="0.27" font-weight="normal" font-style="normal" textLength="33.80" lengthAdjust="spacingAndGlyphs" >Learning</text>
<text x="642.50" y="385.80" font-size="9.6" fill="#bb1720" stroke="#bb1720" stroke-width="0.27" font-weight="normal" font-style="normal" textLength="18.20" lengthAdjust="spacingAndGlyphs" >Trips</text>
<text x="589.20" y="429.00" font-size="9.6" fill="#bb1720" stroke="#bb1720" stroke-width="0.27" font-weight="normal" font-style="normal" textLength="26.40" lengthAdjust="spacingAndGlyphs" >Theme</text>
<text x="593.15" y="440.00" font-size="9.6" fill="#bb1720" stroke="#bb1720" stroke-width="0.27" font-weight="normal" font-style="normal" textLength="18.50" lengthAdjust="spacingAndGlyphs" >Days</text>
<text x="636.70" y="432.80" font-size="9.6" fill="#bb1720" stroke="#bb1720" stroke-width="0.27" font-weight="normal" font-style="normal" textLength="29.40" lengthAdjust="spacingAndGlyphs" >Visitors</text>
</svg>
</body></html>
